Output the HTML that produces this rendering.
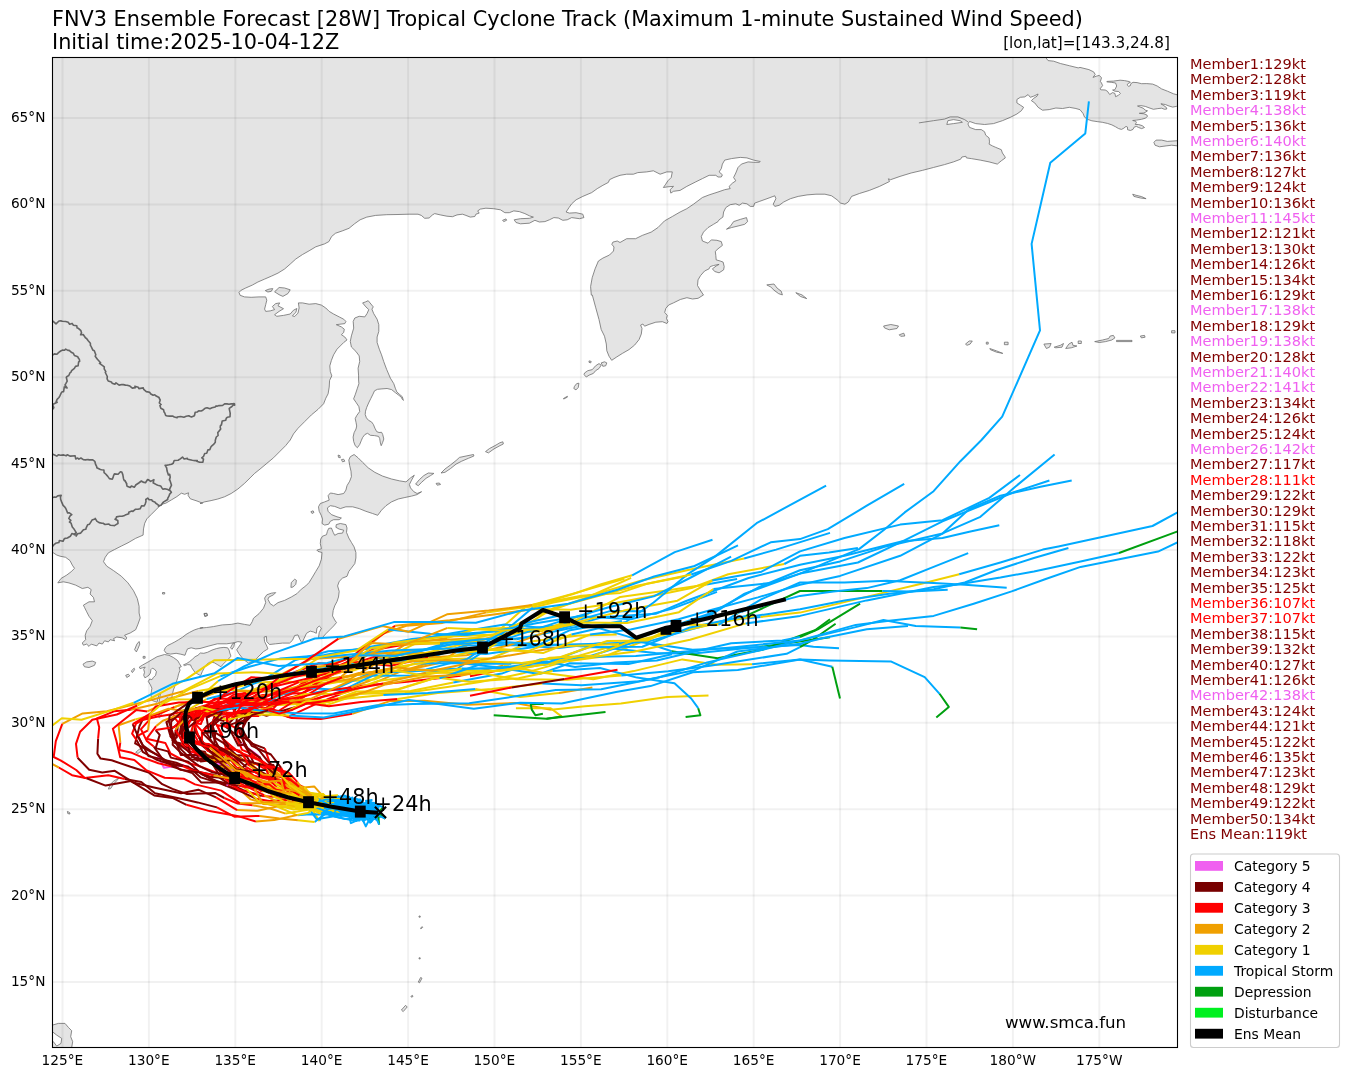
<!DOCTYPE html>
<html><head><meta charset="utf-8"><title>FNV3 Ensemble Forecast</title>
<style>html,body{margin:0;padding:0;background:#fff}svg{display:block}</style></head>
<body>
<svg width="1349" height="1078" viewBox="0 0 1349 1078" font-family='"DejaVu Sans","Liberation Sans",sans-serif'>
<rect width="1349" height="1078" fill="#fff"/>
<defs><clipPath id="ax"><rect x="52.5" y="57.5" width="1125.0" height="990.0"/></clipPath></defs>
<g clip-path="url(#ax)">
<path d="M52.0,50.0 1046.0,50.0 1045.9,57.7 1048.1,60.6 1053.7,61.2 1060.4,63.5 1069.3,65.7 1078.2,67.9 1080.0,67.4 1088.9,69.6 1093.7,71.9 1095.2,74.5 1093.0,77.4 1096.3,76.2 1099.3,75.4 1101.5,77.8 1100.4,81.5 1101.5,83.0 1102.6,85.6 1100.0,88.9 1101.1,89.8 1105.2,90.0 1107.4,91.2 1109.7,94.5 1112.6,92.6 1114.9,93.4 1115.6,96.7 1118.6,95.2 1120.4,93.4 1118.6,91.5 1114.9,91.2 1112.6,90.0 1114.9,89.7 1116.7,86.0 1115.6,83.0 1111.2,82.3 1106.7,81.9 1107.1,81.4 1113.4,81.1 1120.1,80.2 1124.5,80.6 1129.0,81.5 1130.4,82.3 1128.2,83.4 1127.1,84.9 1128.6,86.3 1130.4,85.6 1130.8,83.7 1133.0,82.3 1137.1,82.6 1141.6,83.7 1146.8,83.6 1152.7,84.1 1157.2,86.0 1161.6,88.9 1167.5,91.2 1173.5,93.8 1177.6,94.9 1191.3,95.6 1191.3,105.3 1179.4,105.3 1176.4,106.4 1172.7,107.1 1169.0,106.0 1165.3,104.5 1160.9,103.8 1163.8,105.6 1166.4,107.5 1166.8,109.0 1164.6,109.3 1161.6,108.2 1157.9,108.6 1153.4,109.3 1149.0,107.8 1145.3,106.4 1140.8,105.6 1137.5,106.0 1139.3,106.7 1143.1,108.2 1145.3,110.1 1147.5,110.8 1146.0,111.9 1143.8,113.0 1139.3,113.3 1143.8,113.8 1146.8,114.9 1147.5,116.4 1145.3,118.2 1141.6,119.3 1136.4,120.1 1132.7,120.5 1135.6,121.2 1136.4,122.3 1135.3,124.5 1138.6,124.5 1142.3,125.7 1144.5,127.5 1141.6,128.6 1138.6,127.5 1136.4,126.4 1134.2,127.1 1133.0,129.4 1130.4,130.5 1127.5,129.7 1127.5,127.1 1126.0,126.4 1123.8,128.2 1121.5,129.4 1118.6,128.6 1115.6,126.8 1111.9,124.9 1107.4,123.4 1102.3,122.3 1097.1,121.6 1091.9,120.8 1087.4,119.3 1084.5,117.1 1083.0,113.4 1080.0,109.7 1075.9,108.5 1069.3,107.3 1062.6,108.5 1055.9,108.0 1049.2,109.6 1042.5,110.2 1038.1,107.3 1034.7,102.9 1031.4,100.7 1033.6,98.4 1037.0,96.2 1038.1,94.0 1033.6,96.2 1030.3,97.3 1028.1,94.6 1024.7,96.9 1020.3,97.3 1016.9,99.5 1016.9,102.9 1020.3,105.1 1023.6,107.3 1021.4,110.7 1016.9,114.0 1010.2,117.4 1002.4,120.7 993.5,123.6 984.6,124.5 975.7,123.6 969.5,121.4 967.9,124.0 969.5,127.4 975.7,129.6 981.3,129.6 984.6,131.8 985.7,135.2 989.1,137.9 989.5,141.9 989.1,144.1 992.4,145.9 995.8,147.4 1001.3,149.7 1002.4,153.0 1004.7,156.3 1005.3,157.9 1001.3,160.8 997.3,164.1 989.1,161.9 980.2,160.1 971.3,158.6 966.4,157.9 965.9,156.3 961.9,157.0 960.6,159.2 953.5,161.9 944.5,164.6 933.4,167.5 922.3,170.4 911.1,173.0 900.0,176.4 900.0,176.4 890.6,179.7 888.4,178.8 889.5,181.5 879.5,186.4 869.4,190.4 859.4,193.5 851.6,196.4 848.3,202.0 844.9,204.2 840.5,203.1 837.1,199.8 831.6,195.8 824.9,194.2 816.0,194.2 807.1,194.9 798.2,196.4 790.4,198.7 783.7,202.0 779.2,205.3 774.8,206.4 773.2,204.2 775.9,198.7 774.8,195.8 767.0,198.7 759.2,201.5 754.7,203.1 753.6,206.4 750.3,206.4 746.9,203.8 742.5,203.1 739.2,205.3 735.8,203.8 730.2,204.7 725.8,207.6 723.6,212.0 722.9,217.1 719.1,219.8 718.0,221.6 713.5,224.3 708.0,227.6 703.5,232.1 701.3,236.5 702.4,241.0 708.0,243.2 711.3,239.9 716.9,240.3 721.3,241.6 722.4,245.4 718.0,248.8 715.3,251.4 715.8,255.4 716.2,259.9 720.2,261.0 723.1,262.1 724.2,266.6 723.6,269.9 719.1,272.8 714.7,271.5 712.4,268.8 716.9,265.5 719.1,264.4 713.5,265.5 710.2,266.6 709.1,268.8 704.6,271.0 700.6,275.5 698.0,279.9 697.5,285.5 700.2,290.0 703.5,295.1 703.4,295.0 698.1,298.3 692.5,299.0 686.9,297.7 680.3,299.5 673.6,302.8 668.7,305.0 665.8,308.4 664.7,312.4 667.3,315.5 666.5,318.4 668.0,321.7 666.9,323.5 662.4,321.7 655.8,322.2 649.1,324.4 644.6,326.2 642.9,324.0 640.6,325.1 642.0,328.4 641.3,334.0 639.1,339.5 634.6,345.1 629.0,349.6 622.4,353.4 616.8,356.9 611.7,360.3 609.0,356.2 606.8,350.7 606.3,344.0 604.5,336.2 601.2,329.5 599.0,319.5 595.6,307.2 592.3,295.0 591.3,295.1 590.6,286.6 592.2,277.7 595.1,268.8 598.4,261.0 602.9,258.1 609.5,255.0 613.5,251.0 614.0,247.0 611.8,244.3 612.9,242.1 617.3,241.0 620.0,242.5 626.7,238.7 635.6,238.7 642.3,235.4 651.2,232.1 657.9,227.6 664.5,220.9 672.3,216.5 680.1,212.0 686.8,208.7 693.5,204.2 702.4,197.5 709.1,194.9 718.0,192.0 724.7,189.7 730.2,188.6 729.1,186.4 732.5,183.1 735.8,180.8 733.6,177.5 735.8,173.0 738.0,167.5 741.4,164.1 748.1,161.9 753.6,162.3 759.2,162.3 760.3,161.5 753.6,160.1 746.9,157.9 740.3,157.4 731.4,158.6 724.7,160.1 722.4,164.1 721.3,168.6 719.1,171.9 722.4,174.8 721.3,177.0 718.0,177.0 715.8,175.3 709.1,175.3 702.4,178.6 695.7,181.9 686.8,186.4 680.1,190.4 673.5,191.3 670.8,193.1 670.1,189.7 673.5,186.4 667.9,186.8 663.4,187.5 665.7,184.2 667.9,180.8 671.2,177.5 672.3,171.9 666.8,171.9 660.1,174.2 653.4,170.8 646.7,171.9 637.8,172.6 633.4,174.2 626.7,174.2 620.0,175.3 614.0,177.5 609.5,179.7 608.4,182.4 602.9,185.3 597.3,188.6 591.7,192.6 582.8,196.4 576.1,199.8 571.7,203.8 569.0,207.6 566.1,212.0 569.4,213.1 576.1,212.7 582.8,214.2 583.9,217.6 579.5,218.7 571.7,217.6 567.2,219.8 562.8,220.3 558.3,218.0 553.9,217.6 549.4,219.8 544.9,221.6 539.4,222.0 534.9,220.3 529.4,223.2 520.4,223.8 516.0,222.5 514.2,219.8 520.4,218.7 529.4,218.3 533.4,217.1 529.4,215.8 524.9,213.6 519.3,211.6 513.8,210.9 509.3,212.7 504.9,212.7 500.4,209.8 493.7,208.7 485.9,208.2 480.4,209.1 477.7,210.9 479.2,213.1 475.9,214.2 474.8,216.5 470.3,217.1 465.9,215.4 462.5,214.2 457.0,214.9 452.5,216.7 446.9,216.2 440.3,214.9 434.7,213.6 432.5,214.9 429.1,218.0 424.7,218.3 421.3,215.4 418.0,214.2 409.1,214.2 398.0,214.5 386.8,214.7 375.7,215.4 366.8,217.1 360.1,219.8 354.5,223.8 349.0,228.3 342.3,230.9 335.6,233.2 331.6,236.5 328.9,241.6 324.5,243.9 320.0,245.4 315.8,246.8 309.1,250.8 302.4,254.6 295.8,259.0 290.2,264.1 284.6,269.0 278.0,273.1 271.3,276.2 264.6,279.1 257.9,282.0 252.3,285.1 245.7,288.0 241.2,290.2 239.0,292.4 240.1,295.3 244.5,296.9 251.2,297.3 259.0,296.9 265.7,296.9 266.8,300.2 265.7,304.7 264.6,309.1 265.7,311.4 270.2,310.9 274.6,309.6 272.4,306.5 275.7,303.6 279.7,302.9 278.0,305.8 283.5,308.7 279.1,311.4 274.6,314.7 276.8,316.3 283.5,315.4 290.2,314.0 293.5,310.2 296.9,308.5 295.8,312.5 292.4,315.8 294.7,316.5 298.0,313.1 299.1,308.0 298.4,302.9 302.4,302.9 309.1,304.2 315.8,303.6 321.4,305.1 325.8,308.0 329.2,311.4 333.6,314.0 339.2,316.9 343.7,319.2 345.9,321.4 344.8,323.6 339.2,324.3 336.3,324.7 341.4,326.9 344.3,329.2 343.7,332.5 341.4,334.7 344.8,337.0 347.0,339.9 343.7,342.5 340.3,345.9 337.0,349.2 333.6,354.8 331.4,360.4 329.8,365.9 330.3,371.5 331.8,375.9 329.6,380.4 329.2,387.1 328.1,393.8 325.8,398.2 323.6,403.8 318.0,409.4 311.4,414.9 304.7,421.6 298.0,428.3 293.5,433.9 290.2,440.1 290.2,440.0 285.7,445.6 280.2,451.1 273.5,457.8 266.8,463.4 260.1,469.0 254.6,473.4 250.1,477.9 244.5,483.4 237.9,489.0 231.2,493.5 224.5,496.8 217.8,499.0 211.1,500.6 204.5,501.9 200.0,503.5 202.6,503.2 197.0,501.0 190.3,498.8 188.1,495.4 188.5,492.8 184.7,494.3 181.4,493.2 176.9,496.6 171.4,499.9 165.8,503.2 161.4,504.4 159.1,506.6 155.8,509.9 151.3,514.4 146.9,518.8 144.7,523.3 143.5,528.9 143.1,535.1 135.7,538.3 128.0,542.8 121.3,546.1 114.6,549.5 108.4,552.8 105.2,557.3 103.5,561.7 106.8,566.2 113.5,570.6 121.3,576.2 128.0,582.9 133.5,590.7 137.3,598.5 139.1,606.3 139.1,613.0 140.2,617.9 138.0,624.1 135.7,629.7 130.2,633.0 124.6,635.2 126.8,637.9 125.7,639.7 122.4,637.9 116.8,637.0 113.5,638.6 114.6,640.8 110.1,639.7 108.4,641.9 104.6,640.8 102.3,644.1 99.0,643.0 96.8,645.9 91.2,644.1 89.0,646.4 86.7,644.1 83.4,645.2 82.3,643.0 85.6,639.7 85.2,635.2 86.7,630.8 90.1,626.3 92.3,620.7 89.0,616.3 86.7,611.8 84.5,607.4 83.4,605.2 89.0,601.8 94.5,601.8 93.4,597.4 90.1,594.0 91.2,589.6 87.9,587.3 82.3,588.5 75.6,585.1 68.9,582.9 63.4,581.8 57.8,582.9 61.1,578.4 66.7,575.1 71.2,571.7 74.5,568.4 72.3,565.1 70.0,560.6 65.6,557.3 60.0,556.2 56.7,555.0 53.3,552.8 50.0,551.7 45.5,551.7 40.0,552.0 40.0,50.0ZM1182.9,140.7 1177.5,140.7 1167.3,141.4 1161.7,140.1 1156.1,140.1 1153.9,142.3 1155.0,145.2 1159.5,146.8 1166.1,145.9 1171.7,145.2 1177.5,145.9 1182.9,145.9ZM1132.7,194.2 1136.1,195.3 1141.6,196.6 1146.1,198.7 1140.5,198.0 1133.9,196.4ZM726.5,229.2 730.2,226.5 733.6,221.6 740.3,219.4 746.5,217.6 747.6,221.6 744.7,224.3 738.0,226.0 731.4,227.6ZM502.6,220.3 506.0,218.9 506.6,220.3 503.7,221.6ZM601.2,362.9 604.5,361.8 606.8,362.9 605.7,365.8 602.8,366.3ZM584.5,373.0 587.8,370.7 592.3,369.6 595.6,365.8 599.0,363.6 601.2,365.2 599.0,368.5 595.6,370.7 593.4,373.4 589.0,375.2 586.3,377.0 584.1,374.7ZM589.0,360.9 591.2,361.4 590.7,362.9 589.0,362.3ZM574.5,386.3 576.7,383.6 578.9,383.2 578.3,387.4 576.0,389.9 573.8,388.5ZM563.3,398.6 567.3,396.3 567.6,397.0 563.8,399.0ZM265.3,290.6 269.0,289.1 272.8,288.6 271.3,291.3 267.9,292.0ZM274.6,291.8 279.1,287.5 284.6,288.0 290.2,289.8 288.0,293.5 282.9,296.4 279.1,294.7ZM354.1,454.5 358.1,457.8 362.6,462.3 368.2,467.8 374.8,472.3 382.6,476.1 391.5,479.0 399.3,480.8 406.0,481.9 410.5,477.9 414.3,475.2 411.6,480.1 409.4,484.5 410.5,487.9 413.8,491.7 417.1,493.5 421.6,491.7 417.1,494.6 411.6,496.1 404.9,497.5 398.2,499.0 391.5,501.9 386.0,505.7 381.5,510.2 377.7,515.3 372.6,513.5 365.9,511.3 359.2,508.6 352.6,506.8 345.9,506.8 340.3,508.6 334.7,506.4 330.3,505.7 327.4,507.9 328.1,511.3 331.4,514.6 337.0,516.8 341.4,518.0 339.2,519.7 333.6,519.7 330.3,521.3 328.7,524.2 324.7,525.1 322.0,523.5 322.5,519.1 321.4,515.7 319.2,511.3 318.5,506.8 320.3,503.5 324.7,501.9 329.2,500.1 328.1,495.7 330.3,493.0 333.6,493.5 338.1,494.6 343.7,493.5 345.9,490.1 347.0,485.7 349.7,481.2 351.4,476.7 351.0,471.2 349.7,465.6 348.8,460.0 350.3,456.7ZM338.1,455.1 339.9,455.6 340.3,457.8 338.5,457.4ZM341.4,459.6 343.7,459.2 344.8,461.2 342.5,461.8ZM310.9,511.7 313.1,510.8 314.0,512.4 312.0,513.5ZM291.3,582.5 294.7,579.2 296.4,580.3 295.8,584.3 293.1,587.0 290.9,587.4ZM204.0,613.7 206.7,613.3 207.3,615.5 204.9,616.4ZM415.6,484.1 419.4,479.6 423.8,475.6 428.3,473.0 433.9,473.4 430.5,475.6 426.1,478.3 421.6,482.3 418.3,485.7ZM441.0,473.0 445.0,469.0 450.6,464.9 456.1,460.5 459.5,457.4 466.1,456.0 473.5,454.5 473.9,456.0 468.4,458.3 461.7,461.2 456.1,464.1 450.6,468.5 445.0,472.3ZM485.5,451.6 489.5,448.5 495.1,445.6 500.0,442.7 502.9,441.8 503.3,444.0 500.0,445.6 494.0,448.9 488.4,452.9ZM436.1,483.4 439.4,483.0 440.5,484.5 437.2,485.2ZM200.0,628.2 206.7,627.5 213.4,626.6 222.3,624.9 231.2,624.4 237.9,623.1 244.5,624.4 250.1,625.3 252.3,621.5 253.5,618.2 259.0,613.7 263.5,608.2 265.7,602.6 264.6,598.1 266.8,594.8 271.3,593.2 275.7,592.6 273.5,594.8 269.0,597.0 267.9,599.2 270.2,603.7 273.5,605.9 278.0,602.6 284.6,600.4 291.3,597.0 296.9,593.7 301.3,589.2 305.8,585.9 309.1,582.5 312.5,577.0 315.8,571.4 319.2,565.8 321.4,559.2 322.0,552.5 318.0,551.4 316.9,550.2 321.4,548.7 320.3,543.6 320.7,539.1 322.5,536.2 326.5,534.7 327.4,531.3 328.7,528.4 331.4,528.0 333.2,532.4 334.7,535.3 338.1,533.5 342.5,533.1 343.7,530.2 339.2,529.1 335.9,527.3 336.3,524.6 340.3,523.5 345.9,524.6 347.0,528.0 346.5,532.4 348.8,538.0 351.4,542.4 354.1,546.9 355.9,552.5 355.9,558.0 354.8,563.6 351.4,568.1 348.8,571.4 347.0,576.3 342.5,578.1 339.2,581.4 337.6,585.9 339.2,591.4 338.5,597.0 337.0,601.5 334.7,605.9 333.2,610.4 332.5,615.9 334.7,620.0 336.5,622.6 333.6,626.0 330.3,629.3 325.8,633.8 321.4,638.7 318.5,637.8 319.2,632.7 321.4,628.2 319.2,626.0 316.9,628.2 316.3,633.3 313.6,632.0 310.2,631.1 306.5,633.3 304.2,638.2 302.0,643.1 299.8,639.3 298.0,634.9 294.7,635.5 292.4,640.4 289.5,643.1 282.4,643.1 275.7,643.8 269.5,644.5 266.8,641.6 266.4,636.4 264.1,637.1 264.6,641.6 266.8,646.0 267.9,648.9 263.5,651.6 259.0,656.0 254.6,660.5 248.6,663.2 243.4,659.4 239.0,653.8 236.7,649.8 240.1,644.9 241.9,642.2 237.9,641.6 234.5,642.7 226.7,643.8 217.4,643.8 208.9,646.0 200.0,648.5 195.7,648.9 191.2,647.8 187.5,648.9 186.0,652.3 185.0,655.3 180.8,654.2 176.1,653.3 170.4,654.1 166.3,653.3 164.2,650.4 165.3,647.8 167.5,645.6 171.2,643.8 174.9,641.9 178.6,639.7 182.3,637.4 186.0,634.5 189.7,632.3 194.2,630.0 198.6,628.5 203.1,627.5ZM139.3,667.1 142.3,665.2 148.2,661.9 157.1,656.7 164.5,654.5 169.0,655.3 173.4,657.5 177.7,660.6 179.3,663.4 181.3,666.7 179.1,667.6 180.1,670.1 178.6,673.8 177.7,677.8 175.6,684.2 173.4,690.0 172.2,695.3 171.8,699.2 169.0,698.7 167.2,697.5 164.5,700.5 162.3,704.2 159.8,705.8 158.9,702.7 159.8,697.5 160.4,693.8 158.9,695.3 157.8,699.0 157.1,702.3 154.1,701.2 151.9,700.4 150.9,694.6 151.9,688.2 150.4,684.9 148.3,681.4 149.7,679.0 151.9,679.7 153.4,677.5 155.6,675.3 156.4,671.6 154.4,669.1 152.3,668.2 150.9,669.6 150.4,673.1 148.9,675.3 146.7,676.8 144.9,677.8 143.7,675.3 144.5,672.3 143.7,669.3 145.2,667.1 142.3,667.9 140.0,668.6ZM183.5,664.9 186.8,663.4 189.7,661.5 192.7,659.0 195.1,656.7 197.9,655.3 200.3,653.0 203.8,653.3 207.5,652.3 212.0,650.1 216.4,648.6 220.1,647.8 223.9,647.4 227.6,647.8 229.1,650.1 229.8,653.0 231.0,656.3 229.1,658.2 226.1,661.2 223.1,664.2 220.9,666.8 217.9,664.9 214.2,662.7 209.8,662.2 206.8,664.2 204.6,667.1 202.3,671.6 200.6,675.7 197.9,674.1 195.1,672.6 193.4,670.1 191.7,667.6 190.5,664.9 187.5,664.6 184.5,665.6ZM230.5,647.8 232.8,643.4 234.5,642.9 233.9,646.4 232.0,649.3ZM83.0,664.2 86.7,661.9 92.3,661.1 95.7,662.4 94.5,665.3 89.0,667.5 84.5,666.8ZM134.6,649.7 136.9,644.1 139.1,641.5 139.8,644.1 138.0,648.6 136.4,651.9ZM162.5,592.5 164.7,592.5 164.7,594.0 162.5,594.0ZM204.1,613.4 207.0,613.4 207.5,615.6 204.8,616.3ZM125.7,675.3 128.4,674.2 129.7,675.8 126.8,677.5ZM131.3,670.9 134.2,668.2 134.6,669.7 132.4,672.6ZM143.1,656.4 145.1,656.4 145.1,658.2 143.1,658.2ZM368.2,300.7 373.3,306.9 371.9,309.1 373.7,313.6 377.1,319.2 378.8,324.7 378.8,331.4 377.1,337.0 377.1,342.5 379.3,349.2 381.5,354.8 383.7,361.5 386.6,369.3 390.4,378.2 393.8,383.7 395.3,388.2 396.8,391.9 399.7,394.5 402.3,396.7 403.4,400.4 402.3,399.3 401.2,397.1 398.2,394.8 395.3,392.6 391.6,389.6 387.1,388.5 381.9,388.9 377.5,389.3 374.5,390.8 373.0,394.1 370.8,398.5 368.6,403.0 366.7,407.4 365.5,411.2 365.2,414.5 366.4,417.8 368.6,420.4 371.5,421.9 373.4,424.5 374.9,428.2 376.7,431.6 379.0,432.5 381.6,432.3 382.7,434.5 383.8,439.0 382.7,442.3 381.2,445.7 380.4,443.1 379.7,438.6 378.6,436.4 374.5,435.6 370.4,435.3 367.5,433.3 364.9,434.5 362.6,437.5 361.2,440.8 359.7,444.5 357.4,447.7 355.2,445.7 353.7,441.6 353.1,437.1 354.1,432.7 356.0,429.0 356.7,426.0 356.0,422.3 355.2,418.6 356.7,415.6 359.7,411.5 358.9,406.7 356.0,402.3 353.6,398.9 355.2,394.8 357.4,388.2 358.9,383.7 358.6,380.0 358.6,375.9 358.1,368.2 359.7,361.5 359.2,355.9 355.9,351.4 351.4,347.0 350.3,341.4 351.4,335.9 353.7,328.1 353.2,321.4 354.8,318.0 359.2,316.3 364.8,316.9 367.0,313.6 368.8,309.6 365.9,306.9 362.6,302.9 365.3,302.0ZM766.8,284.9 774.0,284.0 777.1,288.1 781.2,291.2 782.4,294.9 778.7,293.7 774.0,290.2 770.9,287.1ZM795.8,292.7 802.0,294.9 806.7,298.6 800.5,296.5ZM883.6,326.0 890.8,324.5 898.5,326.0 897.0,328.5 889.2,329.8 884.5,327.9ZM899.2,334.8 903.8,333.2 904.8,336.0 900.7,336.3ZM965.5,344.1 969.2,341.0 972.3,341.0 970.1,344.1 967.0,345.3ZM986.3,342.2 988.2,342.2 988.2,344.1 986.3,344.1ZM989.8,348.5 996.6,350.9 1002.8,353.4 996.6,352.2 990.4,349.7ZM1004.4,342.2 1008.1,342.2 1008.1,344.7 1004.4,344.7ZM1043.9,344.1 1051.1,343.5 1049.5,347.2 1046.4,348.5ZM1054.2,347.2 1060.4,345.3 1063.5,343.5 1062.0,347.2 1055.8,347.8ZM1065.7,348.5 1068.8,344.1 1072.0,342.2 1072.9,345.3 1076.9,346.0 1071.3,347.8ZM1078.2,341.0 1081.3,341.0 1081.3,343.5 1078.2,343.5ZM1094.7,341.6 1102.5,340.0 1108.7,338.5 1110.2,336.0 1113.4,335.4 1114.9,337.9 1111.8,340.0 1105.6,341.6 1099.4,342.5ZM1116.5,340.4 1132.0,340.4 1132.0,341.6 1116.5,341.6ZM1140.4,336.0 1144.5,335.4 1145.1,337.2 1141.4,337.9ZM1171.6,330.7 1175.0,330.7 1175.0,332.9 1171.6,332.9ZM108.4,789.1 110.1,784.6 113.5,781.3 116.8,779.1 119.0,778.0 116.8,780.6 113.5,784.2 110.6,788.6ZM135.7,752.3 139.1,749.4 143.1,747.9 141.3,750.8 138.0,753.5ZM67.4,811.4 69.6,812.5 70.0,814.0 67.8,813.6ZM158.0,716.7 160.2,713.4 161.4,714.5 159.6,717.8ZM46.7,1025.1 52.4,1025.1 58.4,1023.4 65.0,1023.4 68.4,1027.4 71.7,1030.7 70.7,1036.7 72.7,1041.7 71.7,1047.4 71.7,1053.4 46.7,1053.4ZM419.0,916.0 420.2,916.0 420.2,917.2 419.0,917.2ZM420.4,928.1 422.3,926.7 422.7,927.4 420.9,928.8ZM419.0,957.8 420.2,957.8 420.2,958.9 419.0,958.9ZM418.3,982.1 420.6,977.5 422.0,978.2 419.5,982.8ZM410.9,996.3 412.5,995.4 413.0,996.5 411.4,997.2ZM401.4,1010.0 405.6,1005.3 407.2,1007.0 403.2,1011.6Z" fill="#e4e4e4" stroke="#6e6e6e" stroke-width="0.8" stroke-linejoin="round"/>
<path d="M947.9,120.7 953.5,119.6 960.1,120.7 962.4,122.3 953.5,123.6 946.8,124.5ZM50.0,1031.7 52.4,1031.7 56.7,1035.1 61.7,1038.4 61.0,1043.4 56.7,1046.1 53.4,1041.7 50.0,1040.1Z" fill="#fff" stroke="#6e6e6e" stroke-width="0.8"/>
<path d="M918.9,122.9 933.4,120.7 944.5,119.1 950.1,116.9 957.9,116.9 964.6,119.6 967.9,121.8" fill="none" stroke="#6e6e6e" stroke-width="0.8"/>
<path d="M47.8,321.3 50.3,320.9 51.9,321.1 52.9,321.1 56.0,323.8 59.0,321.0 60.8,320.9 62.4,321.3 65.7,321.5 68.2,322.2 69.6,324.2 72.1,323.4 73.4,325.2 76.8,325.8 77.1,328.0 78.4,328.3 80.9,330.7 81.5,332.7 80.6,334.8 83.2,334.5 85.6,338.0 86.4,338.3 88.2,340.8 90.4,343.2 90.4,345.5 90.9,346.0 92.4,349.2 92.8,350.1 94.3,350.7 95.8,354.8 95.2,356.3 97.0,358.7 97.4,359.3 100.6,362.7 99.5,363.4 102.3,365.3 104.3,366.8 104.2,368.9 105.8,371.7 105.3,372.5 107.3,376.5 107.1,378.9 107.5,379.6 108.2,381.0 111.4,382.0 112.1,383.2 114.9,384.2 116.0,382.8 119.1,385.1 121.9,384.5 123.3,384.6 125.5,385.1 127.2,385.2 129.9,386.1 132.3,388.1 135.4,387.6 134.9,386.3 138.2,387.2 138.9,388.6 143.3,387.9 143.7,389.4 146.3,391.6 149.6,392.2 150.5,393.7 153.1,395.3 154.8,394.8 155.7,395.7 159.1,397.5 159.1,398.0 160.2,400.0 159.3,403.0 161.1,404.5 159.9,405.5 160.8,408.3 163.6,409.8 164.0,411.9 164.7,412.7 165.7,415.6 167.2,416.0 169.4,416.1 172.9,416.1 174.3,417.0 177.1,417.7 177.3,417.0 180.7,416.5 183.9,417.2 186.2,416.3 188.8,415.7 189.7,416.2 191.5,417.0 194.4,415.8 195.2,412.3 197.2,412.0 198.7,410.9 201.1,411.0 202.8,410.2 205.0,408.3 207.1,407.8 209.9,408.8 212.0,407.8 215.2,406.9 216.2,405.9 217.0,406.2 219.0,405.6 222.5,405.5 224.6,403.8 227.1,403.9 228.9,404.2 231.2,403.9 232.8,403.8 234.0,403.6 234.6,405.1 234.5,403.9 231.9,406.5 229.3,408.4 229.2,408.5 229.9,411.8 230.2,413.1 230.0,416.7 227.3,417.2 226.2,418.4 225.8,420.2 222.2,421.0 221.4,425.0 220.5,425.4 220.2,427.3 220.7,429.0 218.7,431.5 217.8,432.6 218.1,435.5 216.3,437.0 215.3,440.3 215.3,442.2 214.1,443.9 211.9,445.8 211.0,446.8 209.8,449.6 207.9,449.9 206.7,453.2 204.7,453.5 203.6,456.3 201.8,457.8 203.5,459.1 202.9,462.1 199.7,462.3 196.8,461.2 197.2,460.5 195.1,460.6 192.3,460.2 187.7,459.3 187.4,458.4 184.1,459.0 182.5,457.1 180.3,458.9 178.5,460.0 178.1,460.3 174.2,460.5 173.2,463.3 171.6,464.2 169.0,464.8 166.9,465.2 165.1,465.4 166.6,467.7 167.1,471.1 168.4,474.9 169.7,474.3 170.2,477.2 169.4,479.9 169.5,479.0 170.8,483.0 171.5,485.2 169.6,489.1 169.8,490.2 171.4,492.3 169.5,494.4 169.2,495.6 167.7,498.4 167.7,499.5 163.7,501.9 162.5,503.1 161.2,505.2 158.9,505.6 158.0,506.6M159.1,506.6 158.5,505.2 155.5,503.0 155.2,502.3 152.3,501.1 151.8,499.7 149.1,499.8 147.7,498.1 145.8,499.5 146.0,501.5 145.2,504.1 144.0,506.0 141.7,505.7 140.1,508.8 137.9,509.3 135.3,509.3 132.9,511.4 131.8,511.0 128.7,512.3 128.8,513.7 125.1,515.1 124.6,515.5 122.1,516.3 119.7,516.2 116.5,516.9 116.1,518.2 115.0,519.3 117.8,520.6 118.0,523.6 117.2,523.9 114.5,525.7 113.5,525.5 110.4,525.3 108.9,524.0 105.0,524.5 103.1,523.3 101.9,523.3 99.1,522.6 96.8,521.1 95.2,518.4 95.0,519.1 92.0,520.1 91.1,521.6 89.5,524.2 87.6,524.8 86.3,527.6 85.8,529.3 83.5,529.7 82.4,530.9 80.7,533.1 77.7,533.7 76.2,536.1 76.1,535.0 72.0,533.5 70.3,536.3 67.4,538.0 65.1,538.4 64.4,538.6 63.0,541.3 59.4,540.5 58.9,542.5 55.6,543.3 54.4,544.3 53.1,545.7 51.8,547.3 48.9,547.8 47.8,547.2M47.8,354.0 49.1,354.6 52.3,355.2 54.4,353.9 56.7,354.3 58.8,352.4 60.7,351.0 62.4,350.1 64.3,350.3 65.7,349.1 67.9,350.4 69.2,350.3 71.7,352.6 73.4,353.3 74.4,355.5 77.8,356.8 78.5,358.3 79.3,359.2 79.7,361.3 78.6,362.0 78.1,365.8 75.5,366.4 74.4,368.3 71.6,370.6 71.1,372.1 70.1,372.6 68.8,375.5 67.2,376.4 66.3,377.3 67.2,381.2 65.8,383.7 65.0,385.0 67.1,388.0 64.3,386.9 63.6,391.6 62.2,391.8 61.3,392.7 59.9,395.9 59.0,397.5 57.1,399.4 56.1,401.9 57.2,402.3 52.6,404.5 53.8,407.6 53.5,408.3 50.7,411.4 48.7,412.6 47.8,413.0M47.8,454.9 50.5,455.5 52.8,454.2 54.6,455.0 56.8,456.1 58.6,454.7 60.4,455.2 63.7,454.9 66.2,455.8 67.4,454.7 69.9,456.1 70.6,456.1 75.1,455.7 75.7,458.9 77.7,458.0 78.9,459.1 80.9,458.0 83.7,459.8 85.5,459.9 88.2,459.5 89.1,459.9 92.8,459.9 94.8,461.3 95.3,463.2 95.8,464.9 96.7,466.5 96.8,467.7 100.4,469.5 101.6,469.8 103.9,470.0 104.1,472.6 105.7,474.0 107.6,476.1 109.4,478.6 112.3,479.2 113.1,477.4 113.5,475.8 114.4,473.9 118.1,474.2 120.4,471.8 121.8,472.0 122.8,474.6 123.5,478.7 124.3,480.6 124.9,480.5 126.8,484.0 126.6,484.6 127.1,486.2 130.3,487.5 131.4,486.0 134.3,487.2 135.7,485.3 135.7,485.0 138.7,483.0 141.4,481.0 143.0,482.1 145.5,482.7 147.6,479.5 148.9,480.1 150.2,481.0 150.6,481.4 153.9,479.7 153.3,482.3 153.0,482.8 157.3,485.1 157.8,485.3 160.7,486.0 161.9,487.9 163.0,489.2 164.8,488.7 167.9,489.6 170.5,491.1 170.7,490.5M47.8,498.1 49.6,497.6 52.8,497.6 54.6,497.1 55.8,497.3 57.7,495.9 61.2,495.2 60.5,497.0 60.6,499.2 61.6,501.9 63.1,505.4 64.4,506.6 65.3,507.8 65.8,508.5 67.6,512.9 69.4,512.9 71.8,514.6 70.1,515.8 68.8,518.5 70.8,520.4 69.5,522.1 71.1,523.2 72.3,527.0 73.8,528.7 73.9,528.8 76.4,532.8 73.9,534.3 74.9,535.1" fill="none" stroke="#646464" stroke-width="1.6" stroke-linejoin="round"/>
<path d="M62.5 57.5V1047.5M148.9 57.5V1047.5M235.3 57.5V1047.5M321.7 57.5V1047.5M408.1 57.5V1047.5M494.5 57.5V1047.5M580.9 57.5V1047.5M667.3 57.5V1047.5M753.7 57.5V1047.5M840.1 57.5V1047.5M926.5 57.5V1047.5M1012.9 57.5V1047.5M1099.3 57.5V1047.5M1185.7 57.5V1047.5" stroke="#000" stroke-opacity="0.056" stroke-width="2" fill="none"/>
<path d="M52.5 982.0H1177.5M52.5 895.6H1177.5M52.5 809.2H1177.5M52.5 722.8H1177.5M52.5 636.4H1177.5M52.5 550.0H1177.5M52.5 463.6H1177.5M52.5 377.2H1177.5M52.5 290.8H1177.5M52.5 204.4H1177.5M52.5 118.0H1177.5" stroke="#000" stroke-opacity="0.056" stroke-width="2" fill="none"/>
<g fill="none" stroke-width="2.0" stroke-linejoin="round"><path d="M378.0,813.0 369.2,819.7" stroke="#00a010"/><path d="M369.2,819.7 365.8,826.4 362.8,820.0 360.5,815.7 341.1,815.5 329.9,813.4 316.3,804.5" stroke="#00aaff"/><path d="M316.3,804.5 307.1,808.6" stroke="#f0d000"/><path d="M307.1,808.6 290.3,801.1 273.1,796.7" stroke="#f0a000"/><path d="M273.1,796.7 261.8,796.1" stroke="#ff0000"/><path d="M261.8,796.1 243.3,790.2 227.5,782.8 216.6,775.6 199.0,772.1" stroke="#800000"/><path d="M199.0,772.1 183.3,765.1 163.9,767.8 157.4,754.8" stroke="#f060f0"/><path d="M157.4,754.8 147.4,749.8 135.1,743.4 139.5,726.0 142.5,719.9" stroke="#800000"/><path d="M142.5,719.9 157.9,716.5 173.6,713.9 194.0,708.9 214.5,702.4" stroke="#ff0000"/><path d="M214.5,702.4 256.1,697.6 279.9,705.1" stroke="#f0a000"/><path d="M279.9,705.1 328.4,702.2 356.2,691.6 410.5,690.9 453.3,682.6" stroke="#f0d000"/><path d="M453.3,682.6 501.7,673.6 540.1,659.5 584.8,657.7 636.9,641.5 692.6,649.8 759.4,647.0" stroke="#00aaff"/><path d="M759.4,647.0 830.0,637.3" stroke="#00a010"/><path d="M378.0,813.0 374.3,815.0 366.7,811.9 365.5,813.2 357.5,819.7 347.4,813.4 330.3,814.3 338.5,810.0" stroke="#00aaff"/><path d="M338.5,810.0 315.0,797.1 300.0,795.4" stroke="#f0d000"/><path d="M300.0,795.4 291.5,789.0 275.6,778.1" stroke="#f0a000"/><path d="M275.6,778.1 260.2,774.5 252.2,766.6" stroke="#ff0000"/><path d="M252.2,766.6 239.9,757.6 231.9,752.9 213.9,745.1 204.1,729.1 206.2,726.6 216.7,718.8 219.7,716.6" stroke="#800000"/><path d="M219.7,716.6 221.1,710.3 239.7,707.0 247.0,708.6 271.9,701.1 300.4,695.4 320.9,679.7" stroke="#ff0000"/><path d="M320.9,679.7 357.4,674.8 399.5,671.7 438.0,663.3 469.3,643.9" stroke="#f0a000"/><path d="M378.0,813.0 365.9,809.6" stroke="#00a010"/><path d="M365.9,809.6 361.4,815.1 364.1,806.4 354.6,816.2 343.6,805.2 321.2,802.2 323.3,795.4 315.7,807.7" stroke="#00aaff"/><path d="M315.7,807.7 307.2,797.3 289.2,785.3" stroke="#f0d000"/><path d="M289.2,785.3 280.8,780.3 264.9,769.0" stroke="#f0a000"/><path d="M264.9,769.0 251.6,761.6" stroke="#ff0000"/><path d="M251.6,761.6 233.4,759.4 216.8,745.0 214.1,744.6 215.1,733.8 212.3,724.8 215.9,710.4 232.2,714.3 238.3,704.8" stroke="#800000"/><path d="M238.3,704.8 259.2,705.4 287.4,700.5 307.1,701.1 329.0,694.9 361.4,685.8 404.9,682.0 460.8,675.7" stroke="#ff0000"/><path d="M460.8,675.7 503.5,665.4" stroke="#f0a000"/><path d="M503.5,665.4 544.6,673.1 593.3,679.2 633.7,671.1 682.4,659.4 716.7,664.7 752.1,664.3" stroke="#f0d000"/><path d="M752.1,664.3 800.0,659.4 829.0,660.5 891.3,661.6 924.7,677.2 939.6,693.8" stroke="#00aaff"/><path d="M939.6,693.8 948.8,706.9 936.3,717.4" stroke="#00a010"/><path d="M378.0,813.0 374.2,810.6 368.1,810.0 362.2,802.6 357.2,806.3 353.7,816.5 335.3,802.3 328.8,798.9" stroke="#00aaff"/><path d="M328.8,798.9 311.8,800.7" stroke="#f0d000"/><path d="M311.8,800.7 296.2,795.6 286.2,789.1" stroke="#f0a000"/><path d="M286.2,789.1 268.3,779.3 259.2,777.0 244.0,773.2 236.6,760.4 224.2,754.5 199.8,741.5 203.4,732.6 194.2,722.7 199.6,713.7 208.7,717.1 220.8,706.5 243.2,702.0 264.2,699.1 286.2,701.1 309.8,689.1 335.3,669.6 375.4,656.5 411.0,659.2" stroke="#ff0000"/><path d="M411.0,659.2 452.2,649.5 491.1,637.3" stroke="#f0a000"/><path d="M491.1,637.3 525.6,606.7 581.3,591.4 624.4,578.9" stroke="#f0d000"/><path d="M378.0,813.0 378.2,804.3 366.5,801.1 371.7,800.0 354.2,808.3 347.7,805.1 333.9,800.5" stroke="#00aaff"/><path d="M333.9,800.5 331.7,798.4 317.3,803.3 297.9,803.3 286.2,802.4" stroke="#f0d000"/><path d="M286.2,802.4 268.7,787.2 260.1,788.5 242.8,779.6 239.7,773.5" stroke="#f0a000"/><path d="M239.7,773.5 221.8,760.2 215.8,757.5" stroke="#ff0000"/><path d="M215.8,757.5 192.9,755.3 184.1,746.2" stroke="#f060f0"/><path d="M184.1,746.2 179.4,736.0 181.2,724.8" stroke="#800000"/><path d="M181.2,724.8 180.6,717.9 192.0,717.1 208.5,715.9" stroke="#ff0000"/><path d="M208.5,715.9 223.7,709.4 249.8,701.6 271.5,703.0 303.9,702.9 329.3,700.2 359.5,693.7" stroke="#f0a000"/><path d="M359.5,693.7 404.9,692.9 447.4,686.9 480.0,682.0 522.0,673.6 565.4,661.6 605.0,656.3 649.8,638.5 676.5,625.6" stroke="#f0d000"/><path d="M676.5,625.6 712.0,614.2 744.6,593.7 800.0,573.6 857.9,562.5 902.4,541.3 942.5,538.0 969.3,531.8 999.3,525.3" stroke="#00aaff"/><path d="M378.0,813.0 367.8,814.7" stroke="#00a010"/><path d="M367.8,814.7 363.2,809.7 355.3,820.2 356.2,820.9 345.5,811.6 328.4,812.7" stroke="#00aaff"/><path d="M328.4,812.7 331.0,808.4 312.4,804.0" stroke="#f0d000"/><path d="M312.4,804.0 300.0,800.7" stroke="#f0a000"/><path d="M300.0,800.7 283.1,794.2 268.2,791.9" stroke="#ff0000"/><path d="M268.2,791.9 247.2,785.6 238.7,775.9 224.5,768.0 210.1,758.4 199.8,754.9 180.8,755.0 175.0,738.9 169.5,730.1 178.9,723.3" stroke="#800000"/><path d="M178.9,723.3 173.4,716.2 184.9,717.8 199.2,713.3 214.6,698.5 235.1,699.1" stroke="#ff0000"/><path d="M235.1,699.1 260.1,691.0" stroke="#f0a000"/><path d="M260.1,691.0 284.6,677.7 314.9,668.6 365.0,653.5 412.7,653.1" stroke="#f0d000"/><path d="M412.7,653.1 451.7,641.2 504.1,644.1 554.9,644.7 603.3,647.5 655.4,653.1 691.3,653.8 747.0,648.0 800.0,644.9 813.4,646.7 839.0,648.2" stroke="#00aaff"/><path d="M378.0,813.0 372.3,804.5 378.3,812.7 367.6,806.1 352.2,807.6 350.5,814.5 325.2,811.3" stroke="#00aaff"/><path d="M325.2,811.3 321.4,807.3" stroke="#f0d000"/><path d="M321.4,807.3 314.1,809.8 293.6,799.4" stroke="#f0a000"/><path d="M293.6,799.4 275.3,795.7 262.3,786.3" stroke="#ff0000"/><path d="M262.3,786.3 244.1,782.8 228.5,779.7 209.0,760.5 200.6,761.6 193.5,749.5 174.9,743.1 170.0,734.4 166.4,722.1 175.8,716.1 186.0,711.9 195.7,710.5" stroke="#800000"/><path d="M195.7,710.5 214.6,707.7 233.8,694.5 266.5,691.0 285.8,675.5 318.9,663.3 368.6,667.6" stroke="#ff0000"/><path d="M368.6,667.6 410.2,641.4 470.6,638.4 516.5,639.2" stroke="#f0a000"/><path d="M516.5,639.2 586.9,624.8 625.8,635.9 671.7,651.2" stroke="#00aaff"/><path d="M671.7,651.2 717.6,658.2 762.2,649.8 815.0,630.3 830.0,619.2" stroke="#00a010"/><path d="M378.0,813.0 369.5,816.6 369.5,811.3 364.2,811.4 356.8,814.1 350.7,813.4 342.9,810.0 332.3,811.2" stroke="#00aaff"/><path d="M332.3,811.2 321.9,798.8 310.0,799.4 302.1,794.8 296.6,786.7" stroke="#f0d000"/><path d="M296.6,786.7 286.2,778.3 275.2,767.3" stroke="#f0a000"/><path d="M275.2,767.3 270.0,763.6 264.8,748.4" stroke="#ff0000"/><path d="M264.8,748.4 251.1,743.3 240.3,734.6 238.1,727.1 237.1,723.2 246.0,719.4 254.7,711.5" stroke="#800000"/><path d="M254.7,711.5 270.5,708.6 280.1,712.6 288.0,716.8 318.4,702.9 340.8,694.0" stroke="#ff0000"/><path d="M340.8,694.0 370.6,684.7 401.4,671.2 441.9,659.0" stroke="#f0a000"/><path d="M441.9,659.0 491.2,658.3 532.8,641.3 578.6,635.5 616.7,634.5" stroke="#f0d000"/><path d="M378.0,813.0 369.0,810.0" stroke="#00a010"/><path d="M369.0,810.0 364.7,814.3 374.2,812.0 361.7,810.2 344.9,802.0 335.1,799.4 326.3,808.5 313.1,804.7" stroke="#00aaff"/><path d="M313.1,804.7 299.4,803.4 283.9,786.9" stroke="#f0d000"/><path d="M283.9,786.9 280.9,791.4 258.5,780.1" stroke="#f0a000"/><path d="M258.5,780.1 246.1,769.0 229.6,766.8" stroke="#ff0000"/><path d="M229.6,766.8 215.4,757.3 203.9,743.4 194.5,730.2 195.3,722.0 193.6,719.3 208.5,713.3 217.3,714.7 234.3,713.8" stroke="#800000"/><path d="M234.3,713.8 245.0,712.5 268.2,710.2 291.5,718.1 320.8,718.9 352.3,713.7" stroke="#ff0000"/><path d="M352.3,713.7 389.8,701.1 424.6,700.8 467.3,704.7 515.4,703.1 551.0,709.8" stroke="#f0a000"/><path d="M551.0,709.8 584.9,706.2 620.9,703.5 667.2,697.1 708.5,695.6" stroke="#f0d000"/><path d="M378.0,813.0 370.2,822.7 365.5,814.2 362.9,817.3 354.3,808.9 340.9,816.0 325.8,809.4 319.2,821.1" stroke="#00aaff"/><path d="M319.2,821.1 312.1,808.9 285.6,813.6" stroke="#f0d000"/><path d="M285.6,813.6 270.2,808.5 252.5,805.3" stroke="#f0a000"/><path d="M252.5,805.3 237.7,803.6 224.3,798.0" stroke="#ff0000"/><path d="M224.3,798.0 215.0,792.9 186.5,793.9 172.5,788.9 162.2,784.2 148.7,772.5 130.6,766.8 111.6,760.3 100.6,758.6 97.4,753.7 98.1,738.6" stroke="#800000"/><path d="M98.1,738.6 99.2,727.2 96.9,718.5 114.0,711.3 130.8,709.8" stroke="#ff0000"/><path d="M130.8,709.8 157.2,703.8 168.6,698.8 198.3,691.0" stroke="#f0a000"/><path d="M198.3,691.0 244.1,683.1 281.1,681.5 321.0,683.1 374.3,679.6 413.9,663.5" stroke="#f0d000"/><path d="M413.9,663.5 466.9,663.1 511.3,663.8" stroke="#00aaff"/><path d="M378.0,813.0 371.2,821.9 367.5,819.6 367.3,815.8 360.0,817.8 345.0,809.0 331.8,816.0 319.3,808.6" stroke="#00aaff"/><path d="M319.3,808.6 300.5,806.0 283.2,807.2" stroke="#f0d000"/><path d="M283.2,807.2 270.5,804.8 250.6,799.4 241.5,791.0" stroke="#f0a000"/><path d="M241.5,791.0 220.4,782.4" stroke="#ff0000"/><path d="M220.4,782.4 201.4,782.6 192.4,773.1 171.2,766.3" stroke="#800000"/><path d="M171.2,766.3 158.4,763.2 141.7,757.2 130.7,752.4 119.3,750.1 120.3,742.4" stroke="#ff0000"/><path d="M120.3,742.4 118.6,725.2 135.3,719.4" stroke="#f0a000"/><path d="M135.3,719.4 163.2,712.2 181.8,704.0 207.5,694.8 241.8,685.8 281.9,674.6" stroke="#f0d000"/><path d="M281.9,674.6 318.5,669.0 372.1,661.2 423.1,660.9 463.8,645.6 516.0,645.1 558.6,648.1 604.2,642.8" stroke="#00aaff"/><path d="M378.0,813.0 368.1,815.6" stroke="#00a010"/><path d="M368.1,815.6 368.5,816.8 358.1,815.4 354.7,817.2 342.9,812.2 337.4,812.5 333.9,811.5" stroke="#00aaff"/><path d="M333.9,811.5 315.5,801.3 301.6,798.1 287.6,798.1 265.8,791.9" stroke="#f0d000"/><path d="M265.8,791.9 257.7,789.3" stroke="#f0a000"/><path d="M257.7,789.3 236.7,771.1 219.1,773.6 196.9,765.2 188.6,763.2 170.5,753.5 165.3,742.9 146.5,738.8 156.1,726.1" stroke="#ff0000"/><path d="M156.1,726.1 162.8,720.8 174.7,716.4 189.9,708.9" stroke="#f0a000"/><path d="M189.9,708.9 206.7,699.0" stroke="#f0d000"/><path d="M206.7,699.0 234.8,691.9 265.4,678.7 294.8,660.3 328.2,651.3 366.9,648.9 412.5,640.4 453.0,632.9 504.4,624.5 558.8,629.2 603.8,616.9 655.6,613.8 686.1,601.0 748.6,578.0 800.0,564.7 844.5,555.8 902.4,541.3 942.5,521.3 978.2,506.8 1013.8,492.3 1049.4,480.5" stroke="#00aaff"/><path d="M378.0,813.0 376.8,807.9 364.9,812.4 363.9,807.8 360.8,819.1 339.4,810.5 338.2,802.4 326.9,809.8" stroke="#00aaff"/><path d="M326.9,809.8 323.7,796.8 306.8,791.6 294.1,795.7 282.0,785.0" stroke="#f0d000"/><path d="M282.0,785.0 272.1,772.5 262.6,763.2 248.0,764.7 240.5,750.7" stroke="#f0a000"/><path d="M240.5,750.7 225.9,748.6 221.6,733.3 213.5,719.8 220.6,714.0 232.1,707.5 235.0,712.1 253.4,707.7 269.2,699.3 291.1,690.8 312.9,677.2 344.6,664.0 371.8,650.2 411.0,643.4" stroke="#ff0000"/><path d="M411.0,643.4 447.0,638.0" stroke="#f0a000"/><path d="M447.0,638.0 474.9,629.3 515.7,627.4" stroke="#f0d000"/><path d="M378.0,813.0 380.5,812.5" stroke="#00a010"/><path d="M380.5,812.5 373.1,805.5 365.9,807.1 367.3,803.2 357.9,803.8 345.1,796.6 336.6,798.7" stroke="#00aaff"/><path d="M336.6,798.7 320.6,796.8 308.4,794.8" stroke="#f0d000"/><path d="M308.4,794.8 305.3,792.9 291.5,785.1" stroke="#f0a000"/><path d="M291.5,785.1 282.0,781.4 272.5,777.8" stroke="#ff0000"/><path d="M272.5,777.8 253.0,767.4 246.6,756.1 236.3,754.9 222.9,742.6 215.1,737.8 211.1,723.5 217.7,719.5 224.2,721.1" stroke="#800000"/><path d="M224.2,721.1 234.6,712.3 241.8,715.2" stroke="#ff0000"/><path d="M241.8,715.2 268.5,703.0" stroke="#f0a000"/><path d="M268.5,703.0 283.5,702.4 306.8,694.2" stroke="#f0d000"/><path d="M306.8,694.2 336.2,688.6 372.0,672.1 406.7,671.8 457.6,668.5 489.1,647.8" stroke="#00aaff"/><path d="M489.1,647.8 553.5,608.1 595.2,596.9 636.9,585.8 687.0,576.1" stroke="#f0d000"/><path d="M515.9,708.2 550.7,708.2 561.8,716.6" stroke="#f0d000"/><path d="M561.8,716.6 546.5,718.8 493.7,715.2" stroke="#00a010"/><path d="M543.7,704.0 530.7,704.0 531.8,709.6 535.4,715.2 542.9,713.8" stroke="#00a010"/><path d="M470.0,676.2 506.2,668.7 542.3,660.9" stroke="#ff0000"/><path d="M378.0,813.0 369.8,808.0 373.7,818.0 364.0,817.5 362.9,812.2 347.2,809.5 342.4,807.0 330.0,802.8" stroke="#00aaff"/><path d="M330.0,802.8 314.6,801.7 309.8,794.8 296.8,787.4 280.1,775.4" stroke="#f0d000"/><path d="M280.1,775.4 273.8,772.2 263.0,762.9 258.0,756.4" stroke="#f0a000"/><path d="M258.0,756.4 242.1,749.8 236.4,737.4 238.4,729.5 231.3,725.7 226.9,720.9 235.5,716.0 259.1,716.1" stroke="#ff0000"/><path d="M259.1,716.1 272.4,703.6 300.7,701.9 326.6,705.1" stroke="#f0a000"/><path d="M326.6,705.1 360.2,693.8 396.7,690.0 435.8,677.7 477.3,672.3 516.1,679.3 566.9,679.8 621.3,675.5" stroke="#f0d000"/><path d="M621.3,675.5 668.2,671.3 710.0,665.7 786.6,653.8 800.0,647.1" stroke="#00aaff"/><path d="M800.0,647.1 813.4,639.3 835.6,623.7" stroke="#00a010"/><path d="M378.0,813.0 376.7,819.1 372.1,818.9 370.6,808.6 364.2,813.3 354.6,805.8 345.9,804.6" stroke="#00aaff"/><path d="M345.9,804.6 317.6,803.1 314.5,799.8 297.9,792.3 284.4,789.0" stroke="#f0d000"/><path d="M284.4,789.0 268.9,779.8 252.9,765.6 237.7,757.2 227.6,750.5" stroke="#f0a000"/><path d="M227.6,750.5 215.3,746.2 201.9,742.9 201.9,730.8 209.9,726.1 219.4,713.9 228.4,703.3 246.8,698.5 263.2,694.9 302.9,692.9 340.9,677.1" stroke="#ff0000"/><path d="M340.9,677.1 367.4,654.4 415.1,650.6 454.7,662.0 495.5,662.4" stroke="#f0a000"/><path d="M378.0,813.0 361.4,809.9 365.4,814.5 354.1,806.7 361.8,808.6 342.1,809.5 338.0,803.5 317.1,806.7" stroke="#00aaff"/><path d="M317.1,806.7 319.1,805.7 298.0,809.6" stroke="#f0d000"/><path d="M298.0,809.6 287.3,800.1" stroke="#f0a000"/><path d="M287.3,800.1 269.2,800.9 256.4,798.8" stroke="#ff0000"/><path d="M256.4,798.8 242.8,792.3 220.4,783.6 200.8,777.4 188.0,766.5 172.3,765.1 156.0,759.5 142.7,751.8 136.7,740.1" stroke="#800000"/><path d="M136.7,740.1 132.1,733.6 136.0,723.7 147.5,717.2 158.7,714.1 174.4,707.1" stroke="#ff0000"/><path d="M174.4,707.1 194.4,700.5 224.1,689.4" stroke="#f0a000"/><path d="M224.1,689.4 257.9,691.3 291.3,691.9 325.3,684.2 373.8,675.7" stroke="#f0d000"/><path d="M373.8,675.7 410.6,675.6 446.9,669.9 499.3,667.8 539.5,674.1 569.7,663.2 628.4,664.0 672.0,654.2" stroke="#00aaff"/><path d="M378.0,813.0 369.7,812.3" stroke="#00a010"/><path d="M369.7,812.3 359.5,813.6 354.9,807.9 350.7,812.3 335.4,816.1 316.6,819.2 308.2,807.7" stroke="#00aaff"/><path d="M308.2,807.7 293.8,809.5 274.7,804.9" stroke="#f0d000"/><path d="M274.7,804.9 262.6,803.1 239.7,803.2" stroke="#f0a000"/><path d="M239.7,803.2 221.3,790.6 195.0,784.4 184.1,778.8 164.7,777.7 146.1,770.1 134.3,759.9 120.2,757.3 116.2,740.1 112.9,728.7 119.5,723.2 136.4,709.9 147.4,711.4" stroke="#ff0000"/><path d="M147.4,711.4 165.1,703.0" stroke="#f0a000"/><path d="M165.1,703.0 189.5,689.1 220.4,676.2" stroke="#f0d000"/><path d="M220.4,676.2 249.3,666.8 280.6,658.4 324.4,655.1 372.0,646.4 412.1,639.0 458.3,634.1 514.3,630.1 559.5,625.2 610.0,611.1 645.4,611.3" stroke="#00aaff"/><path d="M378.0,813.0 374.0,809.0 367.6,814.5 366.4,808.8 365.4,808.6 354.7,804.9 338.3,802.7" stroke="#00aaff"/><path d="M338.3,802.7 329.3,805.0 311.6,799.9" stroke="#f0d000"/><path d="M311.6,799.9 305.9,789.2 288.8,782.5" stroke="#f0a000"/><path d="M288.8,782.5 270.5,779.2 263.8,764.5" stroke="#ff0000"/><path d="M263.8,764.5 259.1,756.2" stroke="#800000"/><path d="M259.1,756.2 241.4,743.6" stroke="#f060f0"/><path d="M241.4,743.6 236.1,734.8 221.0,723.3 228.3,724.0 238.2,713.7 250.0,713.9 260.5,712.3 278.1,699.1" stroke="#800000"/><path d="M278.1,699.1 291.3,693.7 306.3,686.5 331.4,665.3 356.8,654.9" stroke="#ff0000"/><path d="M356.8,654.9 384.1,633.2 406.4,625.7 442.5,622.9 486.7,612.4" stroke="#f0a000"/><path d="M486.7,612.4 531.7,606.4 572.4,594.2 601.2,584.2 632.1,575.3" stroke="#f0d000"/><path d="M632.1,575.3 674.8,552.1 712.5,539.8" stroke="#00aaff"/><path d="M378.0,813.0 378.8,816.1 360.4,810.6 363.5,815.3 359.3,807.6 345.3,801.9 338.2,805.4 323.0,812.0" stroke="#00aaff"/><path d="M323.0,812.0 316.4,810.8 295.7,807.3" stroke="#f0d000"/><path d="M295.7,807.3 277.2,801.7 264.1,795.1" stroke="#f0a000"/><path d="M264.1,795.1 249.4,787.9 232.6,780.1" stroke="#ff0000"/><path d="M232.6,780.1 226.3,785.5" stroke="#f060f0"/><path d="M226.3,785.5 201.4,774.1 188.3,761.8 170.9,757.6 168.0,751.4 155.7,748.1 159.7,734.9 155.6,730.1" stroke="#800000"/><path d="M155.6,730.1 174.5,726.9 183.7,717.1 203.8,716.0 225.1,693.3 251.0,677.3 273.9,678.5" stroke="#ff0000"/><path d="M273.9,678.5 311.2,658.9 359.2,656.0" stroke="#f0a000"/><path d="M359.2,656.0 394.7,642.4 443.6,636.7 495.3,634.4 542.1,631.0 578.9,616.3" stroke="#f0d000"/><path d="M578.9,616.3 631.0,619.3 671.7,608.9 717.0,591.9" stroke="#00aaff"/><path d="M378.0,813.0 377.5,809.1 375.7,809.6 368.4,818.2 355.5,819.3 353.8,812.0 338.1,807.8 338.0,795.2" stroke="#00aaff"/><path d="M338.0,795.2 322.9,796.2" stroke="#f0d000"/><path d="M322.9,796.2 314.2,786.4 304.1,787.6" stroke="#f0a000"/><path d="M304.1,787.6 290.6,780.2 276.6,775.9" stroke="#ff0000"/><path d="M276.6,775.9 269.4,769.5 258.1,756.4 247.7,748.4 242.2,738.4 235.0,734.7 237.3,714.7 244.6,709.1" stroke="#800000"/><path d="M244.6,709.1 252.2,710.9 259.3,706.7 278.5,711.0 297.0,699.4 311.5,685.9 335.8,673.1 360.6,649.0 395.1,625.8" stroke="#ff0000"/><path d="M395.1,625.8 449.7,620.3 493.7,614.5 535.1,609.0" stroke="#f0a000"/><path d="M535.1,609.0 570.8,609.7 616.6,602.7 648.9,596.7 691.6,588.0 728.2,574.2 784.3,564.0" stroke="#f0d000"/><path d="M784.3,564.0 800.0,555.8 829.0,552.5 857.9,548.0" stroke="#00aaff"/><path d="M378.0,813.0 383.2,807.2" stroke="#00a010"/><path d="M383.2,807.2 366.0,800.8 370.3,806.1 355.3,801.4 349.6,807.7 334.5,803.2 317.5,806.7" stroke="#00aaff"/><path d="M317.5,806.7 311.7,805.5 296.5,807.1 286.0,788.2" stroke="#f0d000"/><path d="M286.0,788.2 264.8,790.0 261.7,791.5" stroke="#f0a000"/><path d="M261.7,791.5 243.9,777.0 230.0,765.0" stroke="#ff0000"/><path d="M230.0,765.0 220.1,759.0 209.3,751.5 200.5,744.2 188.0,738.2 179.5,732.7 189.4,720.8 198.0,718.2 206.5,714.3" stroke="#800000"/><path d="M206.5,714.3 217.3,710.1 238.7,703.9 262.0,695.8 289.8,693.0 309.0,678.0 348.8,661.4 390.7,665.7 428.2,657.5" stroke="#ff0000"/><path d="M428.2,657.5 466.5,655.3 509.1,645.2 568.9,623.9" stroke="#f0a000"/><path d="M568.9,623.9 620.3,596.9 664.8,590.8 706.5,584.4" stroke="#f0d000"/><path d="M706.5,584.4 737.1,578.9" stroke="#00aaff"/><path d="M378.0,813.0 369.7,812.7 366.2,810.8 359.9,818.2 357.9,817.7 347.4,806.3 338.8,798.8 331.2,802.4" stroke="#00aaff"/><path d="M331.2,802.4 323.2,804.4" stroke="#f0d000"/><path d="M323.2,804.4 306.0,803.9 294.8,803.2" stroke="#f0a000"/><path d="M294.8,803.2 286.5,789.8 263.9,788.8" stroke="#ff0000"/><path d="M263.9,788.8 256.6,777.9 238.1,777.0" stroke="#800000"/><path d="M238.1,777.0 228.0,764.7 210.4,763.6" stroke="#f060f0"/><path d="M210.4,763.6 205.0,751.8 193.7,750.8 185.7,741.9 185.6,734.6 182.9,726.0" stroke="#800000"/><path d="M182.9,726.0 183.7,718.3 199.7,711.3 218.1,707.2 242.2,700.6" stroke="#ff0000"/><path d="M242.2,700.6 274.5,693.5 310.2,682.5" stroke="#f0a000"/><path d="M310.2,682.5 351.1,676.3 395.8,667.2 436.7,660.6" stroke="#f0d000"/><path d="M436.7,660.6 499.1,667.5 544.4,664.8 584.0,656.9 635.8,656.1 688.4,651.3 736.9,647.0 800.0,640.4 855.7,627.1 883.5,620.0 915.8,626.0 960.4,627.5" stroke="#00aaff"/><path d="M960.4,627.5 977.1,629.3" stroke="#00a010"/><path d="M378.0,813.0 372.5,808.5 367.7,808.5 360.1,799.4 355.7,799.4 337.4,802.2 332.4,805.3 323.0,801.0" stroke="#00aaff"/><path d="M323.0,801.0 312.1,809.0 299.4,793.3 282.6,785.5 266.9,781.8" stroke="#f0d000"/><path d="M266.9,781.8 245.8,775.6 231.8,771.2 219.3,759.3 196.0,750.3" stroke="#f0a000"/><path d="M196.0,750.3 190.7,742.8 181.7,735.0" stroke="#ff0000"/><path d="M181.7,735.0 182.1,718.6 196.6,708.7" stroke="#800000"/><path d="M196.6,708.7 209.5,715.8 230.7,713.2 259.4,709.8" stroke="#ff0000"/><path d="M259.4,709.8 291.7,701.2 319.4,704.0" stroke="#f0a000"/><path d="M319.4,704.0 353.6,694.0 398.4,688.9 436.6,677.6 469.2,681.7 518.6,678.3 552.7,671.0" stroke="#f0d000"/><path d="M552.7,671.0 600.0,668.0 637.0,677.6 674.5,683.2 691.2,698.5 698.2,708.2" stroke="#00aaff"/><path d="M698.2,708.2 700.4,715.2 685.6,717.1" stroke="#00a010"/><path d="M378.0,813.0 371.0,813.6 373.4,816.7 362.0,818.0 350.9,823.2 347.7,808.5 336.6,801.8" stroke="#00aaff"/><path d="M336.6,801.8 321.3,805.5 315.0,802.8" stroke="#f0d000"/><path d="M315.0,802.8 298.6,790.4 286.3,796.0" stroke="#f0a000"/><path d="M286.3,796.0 274.8,785.4 264.1,774.9" stroke="#ff0000"/><path d="M264.1,774.9 248.3,762.7 236.9,772.2 223.9,758.5 212.3,746.4 199.1,743.6" stroke="#800000"/><path d="M199.1,743.6 192.0,730.5" stroke="#ff0000"/><path d="M192.0,730.5 194.3,722.0 199.7,719.4" stroke="#f0a000"/><path d="M199.7,719.4 205.2,711.5" stroke="#f0d000"/><path d="M205.2,711.5 215.6,709.1 232.4,703.4 257.7,706.7 279.5,695.6 301.9,687.5 343.2,690.2 379.0,672.5 426.2,669.4 467.3,658.9 492.2,642.1 532.9,607.5" stroke="#00aaff"/><path d="M532.9,607.5 553.5,602.5 595.2,594.2 642.5,580.3 692.6,569.1 744.1,558.5" stroke="#f0d000"/><path d="M744.1,558.5 776.1,549.6 830.0,532.9" stroke="#00aaff"/><path d="M378.0,813.0 370.1,816.9" stroke="#00a010"/><path d="M370.1,816.9 372.4,817.6 356.9,807.4 353.7,820.4 335.3,816.8 326.2,813.1 314.6,822.0" stroke="#00aaff"/><path d="M314.6,822.0 297.9,820.3" stroke="#f0d000"/><path d="M297.9,820.3 279.5,818.6 259.6,815.9" stroke="#f0a000"/><path d="M259.6,815.9 234.4,816.7 216.9,807.4" stroke="#ff0000"/><path d="M216.9,807.4 197.6,802.4 188.0,800.3 155.0,793.3 141.3,781.9 124.8,778.9" stroke="#800000"/><path d="M124.8,778.9 108.3,775.2 84.7,777.9 76.2,770.0 60.5,760.3 53.7,757.0 55.8,741.1 62.3,723.9" stroke="#ff0000"/><path d="M62.3,723.9 82.6,713.4 106.9,711.2 147.9,700.9 183.2,691.2" stroke="#f0a000"/><path d="M183.2,691.2 216.7,673.6 256.7,672.2 304.2,675.4 352.3,670.9 402.6,654.4 452.9,652.1" stroke="#f0d000"/><path d="M452.9,652.1 485.8,654.1 534.1,646.9 570.0,630.2 621.9,621.1" stroke="#00aaff"/><path d="M378.0,813.0 371.4,810.1" stroke="#00a010"/><path d="M371.4,810.1 371.2,820.9 354.7,810.0 361.7,803.9 335.6,807.5 331.4,801.3 326.7,811.1" stroke="#00aaff"/><path d="M326.7,811.1 314.3,806.4 300.4,801.8 286.2,794.9 273.1,789.1" stroke="#f0d000"/><path d="M273.1,789.1 253.4,784.4 239.3,769.3 230.5,767.7 218.0,766.3 208.3,757.8" stroke="#f0a000"/><path d="M208.3,757.8 187.0,750.1 181.0,743.4" stroke="#ff0000"/><path d="M181.0,743.4 174.0,741.7 175.7,730.4 180.6,718.7 188.0,710.9" stroke="#800000"/><path d="M188.0,710.9 196.7,710.0 211.4,708.1 233.0,697.2 259.9,688.0" stroke="#ff0000"/><path d="M259.9,688.0 284.0,678.1" stroke="#f0a000"/><path d="M284.0,678.1 314.3,670.4 347.4,666.3 377.2,658.6" stroke="#f0d000"/><path d="M377.2,658.6 412.6,652.7 459.5,642.8 506.9,642.3 549.4,644.9 597.9,643.7 646.1,642.1 677.0,633.4 724.5,620.4 760.7,617.0" stroke="#00aaff"/><path d="M760.7,617.0 800.0,612.6 844.5,602.1 889.1,591.4 921.4,583.7 959.2,574.3" stroke="#f0d000"/><path d="M959.2,574.3 1000.4,562.5 1042.8,549.6 1058.4,546.5 1152.5,526.0 1195.0,503.0" stroke="#00aaff"/><path d="M378.0,813.0 374.6,805.3 371.5,811.3 363.4,821.0 352.1,811.3 349.0,801.3 338.9,812.0 325.0,802.2" stroke="#00aaff"/><path d="M325.0,802.2 320.0,802.3" stroke="#f0d000"/><path d="M320.0,802.3 307.4,796.3 297.3,781.9" stroke="#f0a000"/><path d="M297.3,781.9 288.5,772.5 274.0,768.3" stroke="#ff0000"/><path d="M274.0,768.3 267.5,760.9 259.0,750.2 245.1,736.1 242.1,730.6 244.8,717.8 247.4,716.3" stroke="#800000"/><path d="M247.4,716.3 263.0,712.3 264.5,708.3 283.9,702.7 299.9,699.4 327.8,682.5" stroke="#ff0000"/><path d="M327.8,682.5 350.3,679.0 384.4,658.4" stroke="#f0a000"/><path d="M384.4,658.4 416.0,643.4 452.4,641.5" stroke="#f0d000"/><path d="M378.0,813.0 377.0,820.2 363.1,811.0 360.5,811.7 352.0,811.2 335.8,811.6 331.1,807.1 325.3,809.0" stroke="#00aaff"/><path d="M325.3,809.0 314.7,802.5 294.9,795.8" stroke="#f0d000"/><path d="M294.9,795.8 279.5,796.1 260.2,783.2" stroke="#f0a000"/><path d="M260.2,783.2 245.7,779.4 231.8,761.3 222.8,752.7 209.0,744.0 197.1,743.2 189.9,735.5 193.9,723.1 200.8,724.0 206.0,711.5 223.1,712.3" stroke="#ff0000"/><path d="M223.1,712.3 242.1,715.4 267.4,708.5 279.6,701.6" stroke="#f0a000"/><path d="M279.6,701.6 305.1,693.9 340.9,693.8 377.6,681.1 424.2,675.0 461.8,668.6" stroke="#f0d000"/><path d="M461.8,668.6 498.7,668.2 546.6,661.5 575.0,667.1 615.4,662.5 656.8,660.5 691.5,652.2 731.2,643.2 782.2,640.4 800.0,637.1" stroke="#00aaff"/><path d="M800.0,637.1 817.8,629.3 860.1,603.7" stroke="#00a010"/><path d="M378.0,813.0 365.2,811.4 361.6,808.2 354.8,810.6 352.3,797.5 343.6,808.3 331.9,800.8 324.8,805.6" stroke="#00aaff"/><path d="M324.8,805.6 323.2,794.5 306.2,792.6 288.7,790.1 267.1,786.0" stroke="#f0d000"/><path d="M267.1,786.0 257.5,779.8 239.8,771.5 229.2,763.2 224.9,755.6" stroke="#f0a000"/><path d="M224.9,755.6 207.6,750.8 200.9,740.3" stroke="#ff0000"/><path d="M200.9,740.3 195.8,732.6 195.1,723.8 196.0,708.6 208.5,706.5 223.1,710.1" stroke="#800000"/><path d="M223.1,710.1 243.0,705.4 271.6,704.5 293.4,701.2 328.9,706.3 361.1,701.9 397.5,699.0" stroke="#ff0000"/><path d="M397.5,699.0 437.8,692.9 491.7,689.0 542.3,683.6" stroke="#f0d000"/><path d="M542.3,683.6 581.7,685.2 638.9,681.3 694.6,670.2 737.4,651.5 800.0,643.8 822.3,638.2 866.8,629.3 908.0,626.0" stroke="#00aaff"/><path d="M378.0,813.0 375.4,809.8 361.4,809.6 364.1,811.4 358.6,813.4 344.4,809.1 332.0,807.2 313.5,800.3" stroke="#00aaff"/><path d="M313.5,800.3 306.2,798.5 282.3,792.8" stroke="#f0d000"/><path d="M282.3,792.8 269.8,792.0" stroke="#f0a000"/><path d="M269.8,792.0 257.3,779.0 245.7,770.7" stroke="#ff0000"/><path d="M245.7,770.7 233.4,759.8 219.0,762.0 193.9,747.1 191.0,743.9" stroke="#800000"/><path d="M191.0,743.9 182.0,737.3 191.1,719.2 199.7,714.4 215.4,707.7 231.3,704.8 251.5,694.2 276.4,682.4" stroke="#ff0000"/><path d="M276.4,682.4 316.5,666.5 353.5,665.1 388.8,654.8 424.2,653.2" stroke="#f0a000"/><path d="M424.2,653.2 479.4,640.3 527.4,631.4 571.2,623.6 623.7,610.6 677.5,600.7 712.3,580.6" stroke="#f0d000"/><path d="M712.3,580.6 761.5,571.7 800.0,551.4 844.5,538.0 900.2,524.6 942.5,520.2 989.3,497.9 1020.0,475.0" stroke="#00aaff"/><path d="M546.5,718.8 605.5,711.9" stroke="#00a010"/><path d="M378.0,813.0 380.3,817.5" stroke="#00a010"/><path d="M380.3,817.5 376.8,815.9 367.2,813.9 367.1,815.5 342.6,804.6 340.3,806.8" stroke="#00aaff"/><path d="M340.3,806.8 329.2,810.1 317.9,797.5" stroke="#f0d000"/><path d="M317.9,797.5 290.9,802.4 282.0,794.6" stroke="#f0a000"/><path d="M282.0,794.6 269.6,792.9" stroke="#ff0000"/><path d="M269.6,792.9 248.2,783.3 235.7,777.1 220.6,777.2 210.1,759.9 191.3,759.4 181.8,750.1 170.4,736.4 170.9,735.2 171.2,721.4 183.7,710.5 190.2,713.0" stroke="#800000"/><path d="M190.2,713.0 209.4,706.3 224.1,702.7 251.8,693.5 276.0,686.0 309.0,678.3 346.0,668.5" stroke="#ff0000"/><path d="M346.0,668.5 376.1,664.4 430.1,660.1 475.9,661.0 525.3,652.8 565.2,646.2" stroke="#f0a000"/><path d="M565.2,646.2 617.7,644.1 669.4,633.8 718.7,622.9 754.6,616.0" stroke="#f0d000"/><path d="M754.6,616.0 800.0,609.3 844.5,600.4 889.1,593.7 933.6,589.2 964.8,582.5 996.0,570.3 1033.9,558.0 1068.4,548.0" stroke="#00aaff"/><path d="M378.0,813.0 370.1,803.2 364.2,809.2 371.0,813.6 352.1,806.4 346.7,804.8 339.3,806.4 327.7,797.2" stroke="#00aaff"/><path d="M327.7,797.2 311.0,801.6 295.7,792.1 280.2,794.8 269.7,783.7" stroke="#f0d000"/><path d="M269.7,783.7 251.3,776.6 241.1,767.3 229.0,758.3 206.2,761.1" stroke="#f0a000"/><path d="M206.2,761.1 195.0,751.7 181.9,741.0" stroke="#ff0000"/><path d="M181.9,741.0 182.0,733.0 189.0,715.9 192.7,719.5" stroke="#800000"/><path d="M192.7,719.5 201.4,707.6 208.2,710.3 229.2,700.2 245.9,692.3" stroke="#ff0000"/><path d="M245.9,692.3 268.8,684.2 291.9,675.0 319.5,657.5" stroke="#f0d000"/><path d="M319.5,657.5 355.3,654.1 391.7,650.4 432.3,649.1 475.8,648.1 513.0,625.7 560.5,615.3" stroke="#00aaff"/><path d="M378.0,813.0 367.1,816.7 368.7,812.7 364.0,813.2 359.9,806.8 358.4,805.3 337.5,809.1 327.3,808.5" stroke="#00aaff"/><path d="M327.3,808.5 319.7,811.2 305.1,797.3" stroke="#f0d000"/><path d="M305.1,797.3 295.4,791.3 285.7,781.4" stroke="#f0a000"/><path d="M285.7,781.4 267.1,777.4 255.1,772.0" stroke="#ff0000"/><path d="M255.1,772.0 236.3,769.5 224.7,760.4 210.6,751.6 202.0,743.0 199.1,737.5" stroke="#800000"/><path d="M199.1,737.5 194.7,725.9 202.8,716.3 212.2,712.7 225.7,709.3 237.5,697.8 265.5,688.6 293.7,677.3 319.7,671.3" stroke="#ff0000"/><path d="M319.7,671.3 349.0,663.3 389.9,645.3 444.6,642.9" stroke="#f0a000"/><path d="M444.6,642.9 496.1,633.9 535.4,616.0 588.2,597.0 631.1,577.8" stroke="#f0d000"/><path d="M378.0,813.0 365.4,819.4" stroke="#00a010"/><path d="M365.4,819.4 366.0,815.1 356.7,820.6 359.8,820.4 349.2,815.2 340.2,812.2" stroke="#00aaff"/><path d="M340.2,812.2 335.2,811.0 330.3,804.0 314.2,798.0 303.7,786.8" stroke="#f0d000"/><path d="M303.7,786.8 297.8,786.8 287.1,773.4" stroke="#f0a000"/><path d="M287.1,773.4 272.9,768.8 253.9,763.3" stroke="#ff0000"/><path d="M253.9,763.3 245.3,744.5 238.2,745.5 227.8,725.6 236.1,722.6 243.7,716.7 248.0,709.5 250.3,710.6 266.5,715.8 279.1,711.8 302.0,705.3" stroke="#800000"/><path d="M302.0,705.3 322.2,697.0 354.6,689.1 383.1,683.4" stroke="#ff0000"/><path d="M383.1,683.4 425.9,672.7" stroke="#f0a000"/><path d="M425.9,672.7 466.2,673.1 522.0,668.7 570.3,658.1 619.1,644.3" stroke="#f0d000"/><path d="M619.1,644.3 654.6,632.4 710.5,613.2 759.5,586.9 800.0,570.3 840.1,561.4 884.6,546.9 942.5,533.5 969.3,509.0 1000.4,495.7 1040.5,486.8 1071.7,480.5" stroke="#00aaff"/><path d="M378.0,813.0 373.2,815.7" stroke="#00a010"/><path d="M373.2,815.7 363.6,820.7 358.3,810.0 359.1,817.3 345.1,819.1 327.6,814.5 309.7,814.3 297.5,815.3" stroke="#00aaff"/><path d="M297.5,815.3 277.0,806.5" stroke="#f0d000"/><path d="M277.0,806.5 257.6,810.8 237.1,810.1" stroke="#f0a000"/><path d="M237.1,810.1 216.0,797.3" stroke="#ff0000"/><path d="M216.0,797.3 198.4,789.7 181.0,793.2 155.1,787.7 134.0,782.8 114.8,770.8 102.3,772.4 89.2,769.8 77.6,757.7" stroke="#800000"/><path d="M77.6,757.7 76.0,743.9 80.1,731.7 92.3,719.7 116.8,714.5 137.3,705.5" stroke="#ff0000"/><path d="M137.3,705.5 160.5,693.2 185.8,679.4 214.1,660.3 265.6,659.6 310.0,658.8 356.3,650.6 388.3,629.4" stroke="#f0d000"/><path d="M388.3,629.4 430.2,633.8 466.9,634.9 508.3,628.8 536.1,623.3 586.8,614.9" stroke="#00aaff"/><path d="M378.0,813.0 371.4,810.6" stroke="#00a010"/><path d="M371.4,810.6 371.8,819.2 371.6,812.8 360.0,814.5 340.7,812.3 334.0,806.4" stroke="#00aaff"/><path d="M334.0,806.4 321.7,812.1 303.9,801.4 285.9,804.8" stroke="#f0d000"/><path d="M285.9,804.8 263.1,803.9 257.4,794.5" stroke="#f0a000"/><path d="M257.4,794.5 239.4,789.9 224.2,778.0" stroke="#ff0000"/><path d="M224.2,778.0 209.8,776.7 195.5,770.4 176.3,762.8 158.1,758.4 148.4,756.0 142.8,745.3 138.5,737.6 132.7,724.1" stroke="#800000"/><path d="M132.7,724.1 150.7,713.3 155.6,706.6 178.8,702.4 209.7,701.7 237.1,691.2" stroke="#ff0000"/><path d="M237.1,691.2 272.2,691.0 318.3,685.2 358.9,672.9 415.7,669.9" stroke="#f0a000"/><path d="M415.7,669.9 458.8,670.7 499.4,671.0 545.9,664.6 595.6,656.5 633.7,651.7 690.0,639.7 745.7,623.4" stroke="#f0d000"/><path d="M745.7,623.4 800.0,615.9 866.8,600.4 933.6,587.0 955.9,584.8 1000.4,577.6 1033.9,571.4 1080.6,561.4 1119.0,553.0" stroke="#00aaff"/><path d="M1119.0,553.0 1195.0,525.0" stroke="#00a010"/><path d="M378.0,813.0 378.2,806.8 367.0,805.2 367.1,813.5 358.1,808.4 358.2,806.6 339.9,806.9 331.8,802.7" stroke="#00aaff"/><path d="M331.8,802.7 323.1,793.9 307.7,795.2 300.2,786.4" stroke="#f0d000"/><path d="M300.2,786.4 287.5,782.1 273.9,769.8" stroke="#f0a000"/><path d="M273.9,769.8 264.1,762.3 250.3,754.6" stroke="#ff0000"/><path d="M250.3,754.6 244.4,745.2 240.8,728.8 236.4,726.0 244.0,721.8 252.5,711.8" stroke="#800000"/><path d="M252.5,711.8 257.7,711.4 273.4,708.6 281.0,699.9 301.8,696.9 324.3,691.3 351.5,687.2" stroke="#ff0000"/><path d="M351.5,687.2 369.8,680.8" stroke="#f0a000"/><path d="M369.8,680.8 410.0,659.7 442.0,658.4 481.6,649.8 528.9,650.9 571.5,634.5" stroke="#f0d000"/><path d="M571.5,634.5 625.8,622.0 653.6,602.5 687.0,574.7 714.9,556.6 756.6,523.2 826.1,485.6" stroke="#00aaff"/><path d="M378.0,813.0 375.6,811.0" stroke="#00a010"/><path d="M375.6,811.0 369.3,809.1 362.5,816.2 357.8,806.9 346.6,813.8 340.9,803.8 322.2,806.6 313.0,804.8" stroke="#00aaff"/><path d="M313.0,804.8 293.9,807.5 279.0,805.7 259.4,802.1 246.4,788.8" stroke="#f0d000"/><path d="M246.4,788.8 228.7,778.2 213.3,775.3" stroke="#f0a000"/><path d="M213.3,775.3 192.9,770.5 182.6,766.2" stroke="#ff0000"/><path d="M182.6,766.2 164.1,761.4 153.7,746.5" stroke="#800000"/><path d="M153.7,746.5 146.7,740.9 141.0,729.2 148.9,720.3 151.0,715.1" stroke="#ff0000"/><path d="M151.0,715.1 168.5,708.7 181.7,710.5 200.8,708.5" stroke="#f0a000"/><path d="M200.8,708.5 226.4,720.0 252.3,714.1 289.4,715.6" stroke="#f0d000"/><path d="M289.4,715.6 323.7,717.5 361.2,710.2 408.7,699.9 473.8,708.7 520.0,702.7 561.7,703.4 616.0,692.1 650.5,686.1 692.8,672.2 737.8,670.1 800.0,659.4 832.3,666.7" stroke="#00aaff"/><path d="M832.3,666.7 840.0,698.5" stroke="#00a010"/><path d="M378.0,813.0 378.2,805.8 372.8,807.9 364.0,809.3 355.6,801.8 344.4,795.4 331.1,798.9" stroke="#00aaff"/><path d="M331.1,798.9 324.0,802.6 309.4,803.2" stroke="#f0d000"/><path d="M309.4,803.2 285.9,796.5 281.8,794.5" stroke="#f0a000"/><path d="M281.8,794.5 269.5,784.5 247.3,782.7" stroke="#ff0000"/><path d="M247.3,782.7 236.9,777.8 226.2,768.1 212.5,756.2 197.5,760.8 186.5,749.9 172.4,740.2 176.8,737.5 177.8,726.5" stroke="#800000"/><path d="M177.8,726.5 181.7,713.8 193.7,714.0 210.9,707.6 223.7,701.6 249.5,710.2" stroke="#ff0000"/><path d="M249.5,710.2 282.3,714.2 306.2,701.2 339.7,699.3 383.3,695.0" stroke="#f0d000"/><path d="M383.3,695.0 427.7,693.0 475.5,689.1" stroke="#00aaff"/><path d="M475.5,689.1 520.1,697.1 559.0,692.9" stroke="#f0d000"/><path d="M559.0,692.9 592.4,687.4" stroke="#f0a000"/><path d="M378.0,813.0 373.8,802.9 364.9,813.6 355.2,810.6 361.5,802.3 351.7,808.1 334.2,802.2" stroke="#00aaff"/><path d="M334.2,802.2 323.5,801.0 308.7,800.7" stroke="#f0d000"/><path d="M308.7,800.7 297.9,795.7 278.5,781.5" stroke="#f0a000"/><path d="M278.5,781.5 262.2,776.3 246.3,767.1" stroke="#ff0000"/><path d="M246.3,767.1 230.2,752.9 214.3,744.9 202.5,733.1 209.0,732.6 206.6,717.4 209.8,715.6 232.2,707.3 235.9,707.1" stroke="#800000"/><path d="M235.9,707.1 263.9,690.0 280.5,676.0 306.2,660.8 338.5,638.7" stroke="#ff0000"/><path d="M338.5,638.7 382.4,626.1 408.4,631.8 447.0,614.3 488.7,610.6 532.2,605.1" stroke="#f0a000"/><path d="M532.2,605.1 581.6,595.8 620.2,592.9 646.9,583.7 691.2,574.5" stroke="#f0d000"/><path d="M691.2,574.5 730.7,561.1 770.7,542.3 800.0,539.1 827.8,529.1 866.8,505.7 904.2,483.9" stroke="#00aaff"/><path d="M378.0,813.0 369.8,806.8 368.6,813.1 366.8,811.0 361.9,804.4 344.7,804.0 342.8,800.3 326.3,801.4" stroke="#00aaff"/><path d="M326.3,801.4 310.5,805.1 302.2,805.1 288.9,804.4 272.1,795.4" stroke="#f0d000"/><path d="M272.1,795.4 262.3,784.0 245.6,780.3 232.9,776.9" stroke="#f0a000"/><path d="M232.9,776.9 219.4,769.5 213.6,761.8" stroke="#ff0000"/><path d="M213.6,761.8 192.0,757.1 187.8,746.7" stroke="#800000"/><path d="M187.8,746.7 181.8,740.0 175.3,729.6" stroke="#ff0000"/><path d="M175.3,729.6 184.3,719.9 186.9,711.9 201.1,706.9" stroke="#f0a000"/><path d="M201.1,706.9 216.3,710.8" stroke="#f0d000"/><path d="M216.3,710.8 238.1,707.6 263.3,711.0 296.6,713.3 333.5,713.5 375.5,705.5 413.0,703.9 469.2,703.3 510.8,697.1 555.8,690.0 601.2,689.3 657.6,677.8 707.2,662.4 760.2,650.3 800.0,640.4 855.7,624.9 889.1,620.8 933.6,615.9 973.7,603.7 1011.6,591.4 1045.0,579.2 1080.6,566.9 1158.0,551.6 1195.0,534.0" stroke="#00aaff"/><path d="M378.0,813.0 377.4,815.0 359.9,815.7 358.5,813.5 358.6,808.8 348.0,812.8 333.8,805.3 320.8,813.8" stroke="#00aaff"/><path d="M320.8,813.8 301.9,805.4 285.6,802.7" stroke="#f0d000"/><path d="M285.6,802.7 261.6,801.9 254.3,788.5" stroke="#f0a000"/><path d="M254.3,788.5 238.7,785.7" stroke="#ff0000"/><path d="M238.7,785.7 213.9,780.8 199.7,772.6 180.1,769.7 168.5,762.2 150.5,750.8 142.7,745.2 138.0,735.7" stroke="#800000"/><path d="M138.0,735.7 148.0,730.4" stroke="#ff0000"/><path d="M148.0,730.4 150.0,714.0" stroke="#f0a000"/><path d="M150.0,714.0 167.3,699.4 197.3,699.2 218.2,681.0" stroke="#f0d000"/><path d="M218.2,681.0 244.0,666.4 273.5,653.1 314.9,638.5 344.3,636.4 393.8,622.1 432.6,621.9 475.9,622.7 520.4,610.8 568.3,603.8 617.4,589.7 654.1,576.5 694.5,566.0 738.0,545.3" stroke="#00aaff"/><path d="M378.0,813.0 379.1,824.6" stroke="#00a010"/><path d="M379.1,824.6 373.3,810.8 368.0,818.4 366.2,806.6 355.1,797.9 333.9,811.7" stroke="#00aaff"/><path d="M333.9,811.7 328.4,803.6 311.9,795.8" stroke="#f0d000"/><path d="M311.9,795.8 299.4,795.3" stroke="#f0a000"/><path d="M299.4,795.3 286.8,788.3 275.6,780.4" stroke="#ff0000"/><path d="M275.6,780.4 273.4,765.0 261.1,764.5 240.3,759.5 226.9,752.5 219.9,749.5 213.3,736.9 210.8,727.7 216.2,722.7 222.7,716.9" stroke="#800000"/><path d="M222.7,716.9 234.3,714.3 249.6,708.9 263.8,703.2 289.5,701.3" stroke="#ff0000"/><path d="M289.5,701.3 311.6,698.4 350.0,681.0 388.6,669.4" stroke="#f0a000"/><path d="M388.6,669.4 439.6,678.2" stroke="#f0d000"/><path d="M439.6,678.2 482.0,663.7 547.1,662.7 588.4,647.2 642.3,646.7 690.0,627.4 746.0,615.9" stroke="#00aaff"/><path d="M746.0,615.9 800.0,591.0 822.3,591.0 855.7,591.0 882.4,591.0" stroke="#00a010"/><path d="M882.4,591.0 911.4,591.4 947.7,589.7" stroke="#00aaff"/><path d="M378.0,813.0 376.3,811.3 378.3,807.5 361.0,815.2 368.2,806.5 353.4,805.8 344.3,799.8" stroke="#00aaff"/><path d="M344.3,799.8 323.7,797.2" stroke="#f0d000"/><path d="M323.7,797.2 313.9,803.5 305.5,792.4 285.4,789.6" stroke="#f0a000"/><path d="M285.4,789.6 280.5,768.5 268.4,766.1 258.1,759.9 238.3,751.7 222.6,738.8 217.3,725.3 227.2,726.8 226.9,712.7 238.1,712.9 247.4,711.5 260.0,704.8 273.2,697.8" stroke="#ff0000"/><path d="M273.2,697.8 284.9,692.5" stroke="#f0a000"/><path d="M284.9,692.5 312.4,683.2 349.7,662.7 371.1,648.0 401.2,643.6 440.0,643.6" stroke="#f0d000"/><path d="M440.0,643.6 472.5,640.2 512.5,636.9 559.3,621.6 610.5,606.8 653.7,596.4 687.9,579.0 731.1,556.7" stroke="#00aaff"/><path d="M378.0,813.0 371.1,815.2 368.8,805.7 357.4,806.3 364.4,805.9 349.2,810.3 332.3,798.7" stroke="#00aaff"/><path d="M332.3,798.7 320.7,801.4 315.8,808.2 303.3,799.1 285.2,797.3" stroke="#f0d000"/><path d="M285.2,797.3 281.2,780.4 263.9,781.9 244.3,771.8 235.4,770.3 226.9,761.8 209.5,747.2" stroke="#f0a000"/><path d="M209.5,747.2 194.0,743.4" stroke="#ff0000"/><path d="M194.0,743.4 191.2,737.7 185.6,729.8 195.8,721.6" stroke="#800000"/><path d="M195.8,721.6 202.9,719.5 203.0,715.3 225.8,707.2 252.5,703.5 271.9,694.0 298.9,682.2" stroke="#ff0000"/><path d="M298.9,682.2 325.3,676.9 361.7,666.4" stroke="#f0a000"/><path d="M361.7,666.4 415.0,654.8 449.0,651.4 501.2,648.9 543.0,653.1 590.1,634.5" stroke="#f0d000"/><path d="M590.1,634.5 630.5,629.4 678.5,619.3 712.0,609.8 757.9,597.4 800.0,584.8 840.1,575.9 900.2,555.8 944.8,532.4 980.4,516.8 1013.8,487.9 1054.6,454.5" stroke="#00aaff"/><path d="M378.0,813.0 372.0,810.6 363.0,807.6 365.1,807.9 348.6,816.4 331.3,813.4 315.9,807.2" stroke="#00aaff"/><path d="M315.9,807.2 307.8,813.0 297.1,814.9" stroke="#f0d000"/><path d="M297.1,814.9 274.3,820.1 255.9,821.6" stroke="#f0a000"/><path d="M255.9,821.6 237.2,815.9 209.5,811.1 186.5,804.8" stroke="#ff0000"/><path d="M186.5,804.8 172.5,797.9 154.2,795.4 131.0,781.1 105.6,785.6 86.6,778.2" stroke="#800000"/><path d="M86.6,778.2 72.0,775.2 58.8,767.5" stroke="#ff0000"/><path d="M58.8,767.5 48.9,762.3 45.3,747.3 40.3,737.9 52.0,725.8" stroke="#f0a000"/><path d="M52.0,725.8 61.8,718.3 81.5,719.8 113.8,709.6 133.6,702.8" stroke="#f0d000"/><path d="M133.6,702.8 172.5,683.8 214.7,673.2 237.7,657.9 278.6,666.1 327.3,662.9 357.0,655.3 395.8,655.8 448.9,644.4 485.1,642.5 527.1,637.2" stroke="#00aaff"/><path d="M470.0,695.7 511.7,687.4" stroke="#ff0000"/><path d="M511.7,687.4 564.6,679.0" stroke="#800000"/><path d="M564.6,679.0 617.5,669.8" stroke="#ff0000"/><path d="M378.0,813.0 362.9,813.5 360.1,810.1 362.7,805.7 354.4,814.6 344.8,811.8 330.6,805.9 318.2,799.1 317.4,807.6" stroke="#00aaff"/><path d="M317.4,807.6 307.2,797.4 290.1,785.2 281.5,775.9" stroke="#f0d000"/><path d="M281.5,775.9 263.3,774.6 249.2,765.7" stroke="#f0a000"/><path d="M249.2,765.7 242.1,753.2 229.0,746.6" stroke="#ff0000"/><path d="M229.0,746.6 221.3,736.3 210.9,729.9 213.9,720.9 222.6,712.1" stroke="#800000"/><path d="M222.6,712.1 233.9,716.9 243.3,702.7 261.8,703.4 277.7,695.3 308.1,683.4 341.2,670.9" stroke="#ff0000"/><path d="M341.2,670.9 370.2,642.9 405.1,644.6 447.6,627.9" stroke="#f0a000"/><path d="M447.6,627.9 501.7,630.5 546.0,629.3 584.3,622.4 626.9,622.9 679.0,612.2 713.4,589.0" stroke="#f0d000"/><path d="M713.4,589.0 770.9,582.9 800.0,573.6 829.0,561.4 859.0,549.1 883.5,530.2 904.7,512.4 933.6,491.2 960.4,461.2 981.5,440.0 1002.2,416.7 1040.0,330.4 1031.6,243.9 1050.3,162.8 1085.3,133.4 1088.9,101.3" stroke="#00aaff"/><path d="M378.0,813.0 385.3,818.6" stroke="#00a010"/><path d="M385.3,818.6 370.4,811.8 362.7,815.1 354.5,806.7 349.9,800.6 326.3,799.4 316.5,802.1" stroke="#00aaff"/><path d="M316.5,802.1 318.2,799.5 311.9,795.5" stroke="#f0d000"/><path d="M311.9,795.5 299.1,786.8" stroke="#f0a000"/><path d="M299.1,786.8 285.0,775.3 281.1,767.8" stroke="#ff0000"/><path d="M281.1,767.8 270.9,754.5 251.7,745.8 242.4,730.1 242.5,728.6 246.2,721.3 252.3,714.9 268.1,710.4" stroke="#800000"/><path d="M268.1,710.4 279.3,713.6 292.7,709.7 305.8,703.8 338.6,698.9" stroke="#ff0000"/><path d="M338.6,698.9 365.7,691.8 385.6,684.4 424.8,676.8 471.4,674.0" stroke="#f0a000"/><path d="M471.4,674.0 510.2,668.9 549.9,657.8 594.2,655.4 645.5,635.5 679.8,624.6 718.4,624.9" stroke="#f0d000"/><path d="M718.4,624.9 761.1,599.4 800.0,582.5 844.5,582.5 886.9,580.8 910.2,581.9 933.6,583.0 964.8,584.8 1006.7,587.7" stroke="#00aaff"/><path d="M378.0,813.0 373.9,806.4 374.1,803.2 368.8,808.5 362.0,810.0 348.9,796.6 338.3,808.9 323.9,808.0" stroke="#00aaff"/><path d="M323.9,808.0 310.6,804.8 291.8,793.2" stroke="#f0d000"/><path d="M291.8,793.2 275.5,790.7 260.3,785.9" stroke="#f0a000"/><path d="M260.3,785.9 249.3,778.9 232.2,776.0" stroke="#ff0000"/><path d="M232.2,776.0 212.0,772.2 198.9,765.8 181.2,753.1 172.7,744.8 173.1,734.0 168.9,721.6 169.6,715.9 185.0,705.4 193.1,698.6" stroke="#800000"/><path d="M193.1,698.6 210.2,703.2 225.6,701.6 256.3,698.2 284.7,691.6 319.3,686.3 342.2,677.4" stroke="#ff0000"/><path d="M342.2,677.4 396.9,667.6 432.1,670.7 479.8,661.1" stroke="#f0a000"/><path d="M479.8,661.1 521.9,663.0 560.0,657.2 607.3,641.0 647.4,640.5 686.1,622.4 738.8,612.3" stroke="#f0d000"/><path d="M738.8,612.3 800.0,595.9 833.4,591.4 866.8,588.1 900.2,580.3 933.6,566.9 968.2,553.1" stroke="#00aaff"/></g><path d="M378.2,812.7 360.3,811.6 331.8,806.8 308.5,802.2 287.6,797.2 266.9,790.7 251.3,784.2 234.6,778.0 220.1,768.7 205.8,758.3 196.7,749.2 191.5,742.7 189.5,737.5 186.4,728.4 185.1,719.3 185.8,711.5 189.0,703.7 197.5,697.8 214.9,690.0 235.7,684.3 259.1,679.6 285.0,675.2 311.5,671.8 344.8,667.4 383.7,661.4 422.7,655.7 456.4,650.5 482.5,647.6 520.1,628.1 521.5,623.4 542.9,610.0 564.6,617.3 582.7,626.2 620.2,626.2 636.4,637.8 664.8,628.1 676.0,626.0 785.8,599.2" fill="none" stroke="#000" stroke-width="4.1" stroke-linejoin="round"/><rect x="660.6" y="627.8" width="10.8" height="7" fill="#000"/><rect x="354.9" y="805.6" width="10.8" height="12" fill="#000"/><rect x="303.1" y="796.2" width="10.8" height="12" fill="#000"/><rect x="229.2" y="772.0" width="10.8" height="12" fill="#000"/><rect x="184.1" y="731.5" width="10.8" height="12" fill="#000"/><rect x="192.1" y="691.8" width="10.8" height="12" fill="#000"/><rect x="306.1" y="665.8" width="10.8" height="12" fill="#000"/><rect x="477.1" y="641.6" width="10.8" height="12" fill="#000"/><rect x="559.2" y="611.3" width="10.8" height="12" fill="#000"/><rect x="670.6" y="620.0" width="10.8" height="12" fill="#000"/><path d="M374.9,806.6999999999999L386.1,817.9M374.9,817.9L386.1,806.6999999999999" stroke="#000" stroke-width="2.1" fill="none"/><text x="374.6" y="810.8" font-size="20.8">+24h</text><text x="321.6" y="803.5" font-size="20.8">+48h</text><text x="250.6" y="777.4" font-size="20.8">+72h</text><text x="202.0" y="738.3" font-size="20.8">+96h</text><text x="211.8" y="699.2" font-size="20.8">+120h</text><text x="323.8" y="672.5" font-size="20.8">+144h</text><text x="497.8" y="646.3" font-size="20.8">+168h</text><text x="577.1" y="617.7" font-size="20.8">+192h</text><text x="688.4" y="625.5" font-size="20.8">+216h</text>
</g>
<rect x="52.5" y="57.5" width="1125.0" height="990.0" fill="none" stroke="#000" stroke-width="1.1"/>
<text x="52" y="26" font-size="20.8">FNV3 Ensemble Forecast [28W] Tropical Cyclone Track (Maximum 1-minute Sustained Wind Speed)</text>
<text x="52" y="49" font-size="20.8">Initial time:2025-10-04-12Z</text>
<text x="1170" y="47.5" font-size="15.28" text-anchor="end">[lon,lat]=[143.3,24.8]</text>
<text x="62.4" y="1065" font-size="13.7" text-anchor="middle">125°E</text>
<text x="148.8" y="1065" font-size="13.7" text-anchor="middle">130°E</text>
<text x="235.2" y="1065" font-size="13.7" text-anchor="middle">135°E</text>
<text x="321.6" y="1065" font-size="13.7" text-anchor="middle">140°E</text>
<text x="408.0" y="1065" font-size="13.7" text-anchor="middle">145°E</text>
<text x="494.4" y="1065" font-size="13.7" text-anchor="middle">150°E</text>
<text x="580.8" y="1065" font-size="13.7" text-anchor="middle">155°E</text>
<text x="667.2" y="1065" font-size="13.7" text-anchor="middle">160°E</text>
<text x="753.6" y="1065" font-size="13.7" text-anchor="middle">165°E</text>
<text x="840.0" y="1065" font-size="13.7" text-anchor="middle">170°E</text>
<text x="926.4" y="1065" font-size="13.7" text-anchor="middle">175°E</text>
<text x="1012.8" y="1065" font-size="13.7" text-anchor="middle">180°W</text>
<text x="1099.2" y="1065" font-size="13.7" text-anchor="middle">175°W</text>
<text x="45.4" y="986.0" font-size="13.7" text-anchor="end">15°N</text>
<text x="45.4" y="899.6" font-size="13.7" text-anchor="end">20°N</text>
<text x="45.4" y="813.2" font-size="13.7" text-anchor="end">25°N</text>
<text x="45.4" y="726.8" font-size="13.7" text-anchor="end">30°N</text>
<text x="45.4" y="640.4" font-size="13.7" text-anchor="end">35°N</text>
<text x="45.4" y="554.0" font-size="13.7" text-anchor="end">40°N</text>
<text x="45.4" y="467.6" font-size="13.7" text-anchor="end">45°N</text>
<text x="45.4" y="381.2" font-size="13.7" text-anchor="end">50°N</text>
<text x="45.4" y="294.8" font-size="13.7" text-anchor="end">55°N</text>
<text x="45.4" y="208.4" font-size="13.7" text-anchor="end">60°N</text>
<text x="45.4" y="122.0" font-size="13.7" text-anchor="end">65°N</text>
<text x="1190" y="69.0" font-size="14.55" fill="#800000">Member1:129kt</text>
<text x="1190" y="84.4" font-size="14.55" fill="#800000">Member2:128kt</text>
<text x="1190" y="99.8" font-size="14.55" fill="#800000">Member3:119kt</text>
<text x="1190" y="115.2" font-size="14.55" fill="#f060f0">Member4:138kt</text>
<text x="1190" y="130.6" font-size="14.55" fill="#800000">Member5:136kt</text>
<text x="1190" y="146.0" font-size="14.55" fill="#f060f0">Member6:140kt</text>
<text x="1190" y="161.4" font-size="14.55" fill="#800000">Member7:136kt</text>
<text x="1190" y="176.8" font-size="14.55" fill="#800000">Member8:127kt</text>
<text x="1190" y="192.2" font-size="14.55" fill="#800000">Member9:124kt</text>
<text x="1190" y="207.6" font-size="14.55" fill="#800000">Member10:136kt</text>
<text x="1190" y="223.0" font-size="14.55" fill="#f060f0">Member11:145kt</text>
<text x="1190" y="238.4" font-size="14.55" fill="#800000">Member12:121kt</text>
<text x="1190" y="253.8" font-size="14.55" fill="#800000">Member13:130kt</text>
<text x="1190" y="269.2" font-size="14.55" fill="#800000">Member14:126kt</text>
<text x="1190" y="284.6" font-size="14.55" fill="#800000">Member15:134kt</text>
<text x="1190" y="300.0" font-size="14.55" fill="#800000">Member16:129kt</text>
<text x="1190" y="315.4" font-size="14.55" fill="#f060f0">Member17:138kt</text>
<text x="1190" y="330.8" font-size="14.55" fill="#800000">Member18:129kt</text>
<text x="1190" y="346.2" font-size="14.55" fill="#f060f0">Member19:138kt</text>
<text x="1190" y="361.6" font-size="14.55" fill="#800000">Member20:128kt</text>
<text x="1190" y="377.0" font-size="14.55" fill="#f060f0">Member21:140kt</text>
<text x="1190" y="392.4" font-size="14.55" fill="#f060f0">Member22:141kt</text>
<text x="1190" y="407.8" font-size="14.55" fill="#800000">Member23:134kt</text>
<text x="1190" y="423.2" font-size="14.55" fill="#800000">Member24:126kt</text>
<text x="1190" y="438.6" font-size="14.55" fill="#800000">Member25:124kt</text>
<text x="1190" y="454.0" font-size="14.55" fill="#f060f0">Member26:142kt</text>
<text x="1190" y="469.4" font-size="14.55" fill="#800000">Member27:117kt</text>
<text x="1190" y="484.8" font-size="14.55" fill="#ff0000">Member28:111kt</text>
<text x="1190" y="500.2" font-size="14.55" fill="#800000">Member29:122kt</text>
<text x="1190" y="515.6" font-size="14.55" fill="#800000">Member30:129kt</text>
<text x="1190" y="531.0" font-size="14.55" fill="#800000">Member31:115kt</text>
<text x="1190" y="546.4" font-size="14.55" fill="#800000">Member32:118kt</text>
<text x="1190" y="561.8" font-size="14.55" fill="#800000">Member33:122kt</text>
<text x="1190" y="577.2" font-size="14.55" fill="#800000">Member34:123kt</text>
<text x="1190" y="592.6" font-size="14.55" fill="#800000">Member35:125kt</text>
<text x="1190" y="608.0" font-size="14.55" fill="#ff0000">Member36:107kt</text>
<text x="1190" y="623.4" font-size="14.55" fill="#ff0000">Member37:107kt</text>
<text x="1190" y="638.8" font-size="14.55" fill="#800000">Member38:115kt</text>
<text x="1190" y="654.2" font-size="14.55" fill="#800000">Member39:132kt</text>
<text x="1190" y="669.6" font-size="14.55" fill="#800000">Member40:127kt</text>
<text x="1190" y="685.0" font-size="14.55" fill="#800000">Member41:126kt</text>
<text x="1190" y="700.4" font-size="14.55" fill="#f060f0">Member42:138kt</text>
<text x="1190" y="715.8" font-size="14.55" fill="#800000">Member43:124kt</text>
<text x="1190" y="731.2" font-size="14.55" fill="#800000">Member44:121kt</text>
<text x="1190" y="746.6" font-size="14.55" fill="#800000">Member45:122kt</text>
<text x="1190" y="762.0" font-size="14.55" fill="#800000">Member46:135kt</text>
<text x="1190" y="777.4" font-size="14.55" fill="#800000">Member47:123kt</text>
<text x="1190" y="792.8" font-size="14.55" fill="#800000">Member48:129kt</text>
<text x="1190" y="808.2" font-size="14.55" fill="#800000">Member49:122kt</text>
<text x="1190" y="823.6" font-size="14.55" fill="#800000">Member50:134kt</text>
<text x="1190" y="839.0" font-size="14.55" fill="#800000">Ens Mean:119kt</text>
<rect x="1190.5" y="854" width="149" height="193.5" rx="3" fill="#fff" fill-opacity="0.8" stroke="#ccc" stroke-width="1.1"/>
<rect x="1195" y="861.0" width="28" height="9.8" fill="#f060f0"/>
<text x="1234" y="871.0" font-size="13.9">Category 5</text>
<rect x="1195" y="882.0" width="28" height="9.8" fill="#780000"/>
<text x="1234" y="892.0" font-size="13.9">Category 4</text>
<rect x="1195" y="902.9" width="28" height="9.8" fill="#ff0000"/>
<text x="1234" y="912.9" font-size="13.9">Category 3</text>
<rect x="1195" y="923.9" width="28" height="9.8" fill="#f0a000"/>
<text x="1234" y="933.9" font-size="13.9">Category 2</text>
<rect x="1195" y="944.9" width="28" height="9.8" fill="#f0d000"/>
<text x="1234" y="954.9" font-size="13.9">Category 1</text>
<rect x="1195" y="965.9" width="28" height="9.8" fill="#00aaff"/>
<text x="1234" y="975.9" font-size="13.9">Tropical Storm</text>
<rect x="1195" y="986.8" width="28" height="9.8" fill="#00a010"/>
<text x="1234" y="996.8" font-size="13.9">Depression</text>
<rect x="1195" y="1007.8" width="28" height="9.8" fill="#00f020"/>
<text x="1234" y="1017.8" font-size="13.9">Disturbance</text>
<rect x="1195" y="1028.8" width="28" height="9.8" fill="#000000"/>
<text x="1234" y="1038.8" font-size="13.9">Ens Mean</text>
<text x="1005" y="1028" font-size="16.67">www.smca.fun</text>
</svg>
</body></html>
